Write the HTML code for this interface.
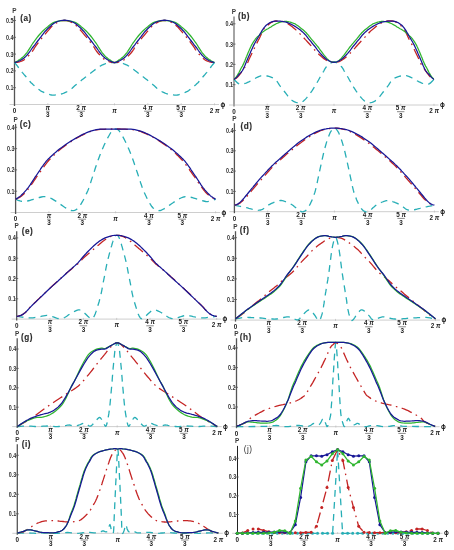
<!DOCTYPE html>
<html><head><meta charset="utf-8"><style>
html,body{margin:0;padding:0;background:#fff;}
svg{display:block;will-change:transform;}
text{font-family:"Liberation Sans",sans-serif;fill:#3a3a3a;}
.tl{font-size:6.6px;font-weight:bold;fill:#333;}
.xl{font-size:6.3px;font-weight:bold;fill:#222;}
.phi{font-size:6.4px;font-weight:bold;fill:#111;}
.pi{font-style:italic;}
.pl{font-size:6.4px;font-weight:bold;fill:#3a3a3a;}
.lb{font-size:8.2px;font-weight:bold;fill:#2e2e2e;stroke:#2e2e2e;stroke-width:0.15px;letter-spacing:0.45px;}
.lbn{font-size:8.2px;fill:#333;letter-spacing:0.45px;}
</style></head><body>
<svg width="454" height="550" viewBox="0 0 454 550">
<rect width="454" height="550" fill="#fff"/>
<line x1="9.5" y1="104.5" x2="219.0" y2="104.5" stroke="#c8c8c8" stroke-width="0.9"/>
<line x1="14.50" y1="15.9" x2="14.50" y2="106.0" stroke="#555" stroke-width="1.30"/>
<line x1="13.0" y1="87.7" x2="16.0" y2="87.7" stroke="#555" stroke-width="0.8"/>
<text x="6.0" y="90.0" class="tl" textLength="7.5" lengthAdjust="spacingAndGlyphs">0.1</text>
<line x1="13.0" y1="70.9" x2="16.0" y2="70.9" stroke="#555" stroke-width="0.8"/>
<text x="6.0" y="73.2" class="tl" textLength="7.5" lengthAdjust="spacingAndGlyphs">0.2</text>
<line x1="13.0" y1="54.1" x2="16.0" y2="54.1" stroke="#555" stroke-width="0.8"/>
<text x="6.0" y="56.5" class="tl" textLength="7.5" lengthAdjust="spacingAndGlyphs">0.3</text>
<line x1="13.0" y1="37.3" x2="16.0" y2="37.3" stroke="#555" stroke-width="0.8"/>
<text x="6.0" y="39.6" class="tl" textLength="7.5" lengthAdjust="spacingAndGlyphs">0.4</text>
<line x1="13.0" y1="20.5" x2="16.0" y2="20.5" stroke="#555" stroke-width="0.8"/>
<text x="6.0" y="22.9" class="tl" textLength="7.5" lengthAdjust="spacingAndGlyphs">0.5</text>
<line x1="47.8" y1="103.3" x2="47.8" y2="105.3" stroke="#bbb" stroke-width="0.7"/>
<line x1="81.2" y1="103.3" x2="81.2" y2="105.3" stroke="#bbb" stroke-width="0.7"/>
<line x1="114.5" y1="103.3" x2="114.5" y2="105.3" stroke="#bbb" stroke-width="0.7"/>
<line x1="147.8" y1="103.3" x2="147.8" y2="105.3" stroke="#bbb" stroke-width="0.7"/>
<line x1="181.2" y1="103.3" x2="181.2" y2="105.3" stroke="#bbb" stroke-width="0.7"/>
<line x1="214.5" y1="103.3" x2="214.5" y2="105.3" stroke="#bbb" stroke-width="0.7"/>
<text x="14.5" y="113.3" class="xl" text-anchor="middle">0</text>
<text x="47.8" y="109.8" class="xl" text-anchor="middle"><tspan class="pi">π</tspan></text>
<line x1="46.0" y1="111.2" x2="49.6" y2="111.2" stroke="#3a3a3a" stroke-width="0.6"/>
<text x="47.8" y="117.3" class="xl" text-anchor="middle">3</text>
<text x="81.2" y="109.8" class="xl" text-anchor="middle">2 <tspan class="pi">π</tspan></text>
<line x1="77.5" y1="111.2" x2="84.9" y2="111.2" stroke="#3a3a3a" stroke-width="0.6"/>
<text x="81.2" y="117.3" class="xl" text-anchor="middle">3</text>
<text x="147.8" y="109.8" class="xl" text-anchor="middle">4 <tspan class="pi">π</tspan></text>
<line x1="144.1" y1="111.2" x2="151.5" y2="111.2" stroke="#3a3a3a" stroke-width="0.6"/>
<text x="147.8" y="117.3" class="xl" text-anchor="middle">3</text>
<text x="181.2" y="109.8" class="xl" text-anchor="middle">5 <tspan class="pi">π</tspan></text>
<line x1="177.5" y1="111.2" x2="184.9" y2="111.2" stroke="#3a3a3a" stroke-width="0.6"/>
<text x="181.2" y="117.3" class="xl" text-anchor="middle">3</text>
<text x="114.5" y="112.8" class="xl" text-anchor="middle"><tspan class="pi">π</tspan></text>
<text x="214.5" y="112.8" class="xl" text-anchor="middle">2 <tspan class="pi">π</tspan></text>
<text x="222.8" y="106.5" class="phi" text-anchor="middle">ϕ</text>
<text x="14.5" y="13.2" class="pl" text-anchor="middle">P</text>
<text x="20.3" y="21.2" class="lb">(a)</text>
<path d="M14.5 62.5L14.9 63.0L15.5 63.7L16.2 64.5L16.9 65.4L17.5 66.2L18.1 67.0L18.7 67.8L19.3 68.5L19.9 69.3L20.5 70.1L21.0 70.7L21.5 71.3L21.9 72.0L22.4 72.6L23.1 73.4L23.9 74.4L24.9 75.5L26.0 76.7L27.0 77.8L27.9 78.8L28.6 79.6L29.1 80.4L29.7 81.1L30.2 81.8L31.0 82.7L32.0 83.6L33.2 84.7L34.4 85.7L35.6 86.8L36.7 87.7L37.6 88.5L38.5 89.2L39.3 89.8L40.2 90.5L41.1 91.1L42.2 91.7L43.3 92.2L44.5 92.8L45.7 93.3L46.9 93.7L48.1 94.1L49.3 94.5L50.5 94.8L51.7 95.0L53.0 95.1L54.4 95.1L55.8 94.9L57.3 94.7L58.7 94.5L60.0 94.3L61.1 94.0L62.0 93.8L62.9 93.5L63.9 93.2L64.9 92.7L66.1 92.2L67.3 91.5L68.7 90.7L69.9 89.9L71.1 89.0L72.1 88.3L72.9 87.5L73.7 86.7L74.7 85.8L76.0 84.7L77.7 83.3L79.6 81.8L81.7 80.1L83.8 78.4L85.9 76.8L87.9 75.2L90.1 73.6L92.1 72.0L94.1 70.5L95.8 69.2L97.2 68.2L98.4 67.3L99.4 66.6L100.4 66.0L101.5 65.4L102.6 64.8L103.8 64.3L104.9 63.9L105.9 63.5L106.9 63.2L107.7 62.9L108.5 62.8L109.2 62.6L109.9 62.6L110.6 62.5L111.4 62.5L112.1 62.5L112.9 62.5L113.7 62.5L114.5 62.5L115.3 62.5L116.1 62.5L116.9 62.5L117.6 62.5L118.4 62.5L119.1 62.6L119.8 62.6L120.5 62.8L121.3 62.9L122.1 63.2L123.1 63.5L124.1 63.9L125.2 64.3L126.4 64.8L127.5 65.4L128.6 66.0L129.6 66.6L130.6 67.3L131.8 68.2L133.2 69.2L134.9 70.5L136.9 72.0L138.9 73.6L141.1 75.2L143.1 76.8L145.2 78.4L147.3 80.1L149.4 81.8L151.3 83.3L153.0 84.7L154.3 85.8L155.3 86.7L156.1 87.5L156.9 88.3L157.9 89.0L159.1 89.9L160.3 90.7L161.7 91.5L162.9 92.2L164.1 92.7L165.1 93.2L166.1 93.5L167.0 93.8L167.9 94.0L169.0 94.3L170.3 94.5L171.7 94.7L173.2 94.9L174.6 95.1L176.0 95.1L177.3 95.0L178.5 94.8L179.7 94.5L180.9 94.1L182.1 93.7L183.3 93.3L184.5 92.8L185.7 92.2L186.8 91.7L187.9 91.1L188.8 90.5L189.7 89.8L190.5 89.2L191.4 88.5L192.3 87.7L193.4 86.8L194.6 85.7L195.8 84.7L197.0 83.6L198.0 82.7L198.8 81.8L199.3 81.1L199.9 80.4L200.4 79.6L201.1 78.8L202.0 77.8L203.0 76.7L204.1 75.5L205.1 74.4L205.9 73.4L206.6 72.6L207.1 72.0L207.5 71.3L208.0 70.7L208.5 70.1L209.1 69.3L209.7 68.5L210.3 67.8L210.9 67.0L211.5 66.2L212.1 65.4L212.8 64.5L213.5 63.7L214.1 63.0L214.5 62.5" stroke="#27aeb6" stroke-width="1.3" fill="none" stroke-dasharray="6.8 5.2"/>
<path d="M14.5 62.5L15.2 62.4L16.1 62.4L17.3 62.3L18.4 62.1L19.5 61.8L20.5 61.5L21.5 61.1L22.6 60.6L23.6 60.1L24.5 59.5L25.4 58.8L26.2 58.1L26.9 57.4L27.7 56.6L28.5 55.8L29.3 54.9L30.1 54.0L31.0 53.0L31.8 52.0L32.5 51.1L33.1 50.2L33.7 49.3L34.2 48.4L34.8 47.5L35.5 46.4L36.4 45.1L37.4 43.8L38.5 42.4L39.6 40.9L40.7 39.5L41.8 38.1L43.0 36.7L44.2 35.3L45.4 33.9L46.6 32.4L47.9 30.9L49.2 29.4L50.5 27.8L51.9 26.4L53.2 25.2L54.5 24.2L55.8 23.3L57.1 22.6L58.3 22.0L59.5 21.5L60.6 21.1L61.6 20.8L62.6 20.6L63.5 20.5L64.5 20.5L65.5 20.5L66.4 20.6L67.4 20.8L68.4 21.1L69.5 21.5L70.7 22.0L71.9 22.6L73.2 23.3L74.5 24.2L75.8 25.2L77.1 26.4L78.5 27.8L79.8 29.4L81.1 30.9L82.4 32.4L83.6 33.9L84.8 35.3L86.0 36.7L87.2 38.1L88.3 39.5L89.4 40.9L90.5 42.4L91.6 43.8L92.6 45.1L93.5 46.4L94.2 47.5L94.8 48.4L95.3 49.3L95.9 50.2L96.5 51.1L97.2 52.0L98.0 53.0L98.9 54.0L99.7 54.9L100.5 55.8L101.3 56.6L102.1 57.4L102.8 58.1L103.6 58.8L104.5 59.5L105.4 60.1L106.4 60.6L107.5 61.1L108.5 61.5L109.5 61.8L110.5 62.1L111.5 62.3L112.5 62.4L113.5 62.5L114.5 62.5L115.5 62.5L116.5 62.4L117.5 62.3L118.5 62.1L119.5 61.8L120.5 61.5L121.5 61.1L122.6 60.6L123.6 60.1L124.5 59.5L125.4 58.8L126.2 58.1L126.9 57.4L127.7 56.6L128.5 55.8L129.3 54.9L130.1 54.0L131.0 53.0L131.8 52.0L132.5 51.1L133.1 50.2L133.7 49.3L134.2 48.4L134.8 47.5L135.5 46.4L136.4 45.1L137.4 43.8L138.5 42.4L139.6 40.9L140.7 39.5L141.8 38.1L143.0 36.7L144.2 35.3L145.4 33.9L146.6 32.4L147.9 30.9L149.2 29.4L150.5 27.8L151.9 26.4L153.2 25.2L154.5 24.2L155.8 23.3L157.1 22.6L158.3 22.0L159.5 21.5L160.6 21.1L161.6 20.8L162.6 20.6L163.5 20.5L164.5 20.5L165.5 20.5L166.4 20.6L167.4 20.8L168.4 21.1L169.5 21.5L170.7 22.0L171.9 22.6L173.2 23.3L174.5 24.2L175.8 25.2L177.1 26.4L178.5 27.8L179.8 29.4L181.1 30.9L182.4 32.4L183.6 33.9L184.8 35.3L186.0 36.7L187.2 38.1L188.3 39.5L189.4 40.9L190.5 42.4L191.6 43.8L192.6 45.1L193.5 46.4L194.2 47.5L194.8 48.4L195.3 49.3L195.9 50.2L196.5 51.1L197.2 52.0L198.0 53.0L198.9 54.0L199.7 54.9L200.5 55.8L201.3 56.6L202.1 57.4L202.8 58.1L203.6 58.8L204.5 59.5L205.4 60.1L206.4 60.6L207.5 61.1L208.5 61.5L209.5 61.8L210.6 62.1L211.7 62.3L212.9 62.4L213.8 62.4L214.5 62.5" stroke="#c42424" stroke-width="1.3" fill="none" stroke-dasharray="11 4.5 1.6 4.5"/>
<path d="M14.5 62.5L15.1 62.2L15.9 61.8L16.9 61.3L17.9 60.7L18.8 60.1L19.7 59.6L20.6 59.0L21.4 58.3L22.3 57.6L23.2 56.8L24.1 55.9L24.9 55.0L25.8 53.9L26.7 52.8L27.6 51.6L28.5 50.2L29.5 48.7L30.5 47.1L31.4 45.5L32.4 44.0L33.3 42.6L34.3 41.3L35.2 40.0L36.1 38.8L37.0 37.6L37.9 36.5L38.7 35.5L39.6 34.5L40.5 33.5L41.5 32.4L42.6 31.3L43.7 30.2L45.0 29.1L46.2 27.9L47.5 26.9L48.8 25.8L50.1 24.8L51.4 23.8L52.9 22.9L54.5 22.2L56.3 21.6L58.3 21.1L60.4 20.8L62.5 20.6L64.5 20.5L66.5 20.6L68.6 20.8L70.7 21.1L72.7 21.6L74.5 22.2L76.1 22.9L77.6 23.8L78.9 24.8L80.2 25.8L81.5 26.9L82.8 27.9L84.0 29.1L85.3 30.2L86.4 31.3L87.5 32.4L88.5 33.5L89.4 34.5L90.3 35.5L91.1 36.5L92.0 37.6L92.9 38.8L93.8 40.0L94.7 41.3L95.7 42.6L96.6 44.0L97.6 45.5L98.5 47.1L99.5 48.7L100.5 50.2L101.4 51.6L102.3 52.8L103.2 53.9L104.1 55.0L104.9 55.9L105.8 56.8L106.7 57.6L107.6 58.3L108.4 59.0L109.3 59.6L110.2 60.1L111.1 60.8L111.9 61.4L112.8 61.9L113.6 62.3L114.5 62.5L115.4 62.3L116.2 61.9L117.1 61.4L117.9 60.8L118.8 60.1L119.7 59.6L120.6 59.0L121.4 58.3L122.3 57.6L123.2 56.8L124.1 55.9L124.9 55.0L125.8 53.9L126.7 52.8L127.6 51.6L128.5 50.2L129.5 48.7L130.5 47.1L131.4 45.5L132.4 44.0L133.3 42.6L134.3 41.3L135.2 40.0L136.1 38.8L137.0 37.6L137.9 36.5L138.7 35.5L139.6 34.5L140.5 33.5L141.5 32.4L142.6 31.3L143.7 30.2L145.0 29.1L146.2 27.9L147.5 26.9L148.8 25.8L150.1 24.8L151.4 23.8L152.9 22.9L154.5 22.2L156.3 21.6L158.3 21.1L160.4 20.8L162.5 20.6L164.5 20.5L166.5 20.6L168.6 20.8L170.7 21.1L172.7 21.6L174.5 22.2L176.1 22.9L177.6 23.8L178.9 24.8L180.2 25.8L181.5 26.9L182.8 27.9L184.0 29.1L185.3 30.2L186.4 31.3L187.5 32.4L188.5 33.5L189.4 34.5L190.3 35.5L191.1 36.5L192.0 37.6L192.9 38.8L193.8 40.0L194.7 41.3L195.7 42.6L196.6 44.0L197.6 45.5L198.5 47.1L199.5 48.7L200.5 50.2L201.4 51.6L202.3 52.8L203.2 53.9L204.1 55.0L204.9 55.9L205.8 56.8L206.7 57.6L207.6 58.3L208.4 59.0L209.3 59.6L210.2 60.1L211.1 60.7L212.1 61.3L213.1 61.8L213.9 62.2L214.5 62.5" stroke="#2fb52f" stroke-width="1.25" fill="none"/>
<path d="M14.5 62.5L15.1 62.3L15.9 62.1L16.9 61.8L17.9 61.5L18.8 61.2L19.7 60.8L20.6 60.3L21.4 59.8L22.3 59.3L23.2 58.6L24.1 57.9L24.9 57.2L25.8 56.4L26.7 55.5L27.6 54.4L28.6 53.2L29.6 51.9L30.6 50.5L31.6 49.0L32.7 47.5L33.8 46.1L35.0 44.6L36.1 43.0L37.3 41.5L38.5 40.0L39.7 38.4L40.9 36.9L42.0 35.3L43.2 33.8L44.3 32.4L45.3 31.2L46.3 30.2L47.2 29.2L48.2 28.2L49.3 27.2L50.5 26.2L51.7 25.0L53.0 24.0L54.4 23.0L55.9 22.2L57.5 21.5L59.2 21.0L61.0 20.5L62.7 20.3L64.5 20.2L66.3 20.3L68.0 20.5L69.8 21.0L71.5 21.5L73.1 22.2L74.6 23.0L76.0 24.0L77.3 25.0L78.5 26.2L79.7 27.2L80.8 28.2L81.8 29.2L82.7 30.2L83.7 31.2L84.7 32.4L85.8 33.8L87.0 35.3L88.1 36.9L89.3 38.4L90.5 40.0L91.7 41.5L92.9 43.0L94.0 44.6L95.2 46.1L96.3 47.5L97.4 49.0L98.4 50.5L99.4 51.9L100.4 53.2L101.4 54.4L102.3 55.5L103.2 56.4L104.1 57.2L104.9 57.9L105.8 58.6L106.7 59.3L107.6 59.8L108.4 60.3L109.3 60.8L110.2 61.2L111.1 61.5L111.9 61.9L112.8 62.2L113.6 62.4L114.5 62.5L115.4 62.4L116.2 62.2L117.1 61.9L117.9 61.5L118.8 61.2L119.7 60.8L120.6 60.3L121.4 59.8L122.3 59.3L123.2 58.6L124.1 57.9L124.9 57.2L125.8 56.4L126.7 55.5L127.6 54.4L128.6 53.2L129.6 51.9L130.6 50.5L131.6 49.0L132.7 47.5L133.8 46.1L135.0 44.6L136.1 43.0L137.3 41.5L138.5 40.0L139.7 38.4L140.9 36.9L142.0 35.3L143.2 33.8L144.3 32.4L145.3 31.2L146.3 30.2L147.2 29.2L148.2 28.2L149.3 27.2L150.5 26.2L151.7 25.0L153.0 24.0L154.4 23.0L155.9 22.2L157.5 21.5L159.2 21.0L161.0 20.5L162.7 20.3L164.5 20.2L166.3 20.3L168.0 20.5L169.8 21.0L171.5 21.5L173.1 22.2L174.6 23.0L176.0 24.0L177.3 25.0L178.5 26.2L179.7 27.2L180.8 28.2L181.8 29.2L182.7 30.2L183.7 31.2L184.7 32.4L185.8 33.8L187.0 35.3L188.1 36.9L189.3 38.4L190.5 40.0L191.7 41.5L192.9 43.0L194.0 44.6L195.2 46.1L196.3 47.5L197.4 49.0L198.4 50.5L199.4 51.9L200.4 53.2L201.4 54.4L202.3 55.5L203.2 56.4L204.1 57.2L204.9 57.9L205.8 58.6L206.7 59.3L207.6 59.8L208.4 60.3L209.3 60.8L210.2 61.2L211.1 61.5L212.1 61.8L213.1 62.1L213.9 62.3L214.5 62.5" stroke="#171796" stroke-width="1.25" fill="none"/>
<line x1="229.0" y1="105.0" x2="438.5" y2="105.0" stroke="#c8c8c8" stroke-width="0.9"/>
<line x1="234.00" y1="16.5" x2="234.00" y2="106.5" stroke="#a4a4a4" stroke-width="2.00"/>
<line x1="232.5" y1="84.7" x2="235.5" y2="84.7" stroke="#555" stroke-width="0.8"/>
<text x="225.5" y="87.0" class="tl" textLength="7.5" lengthAdjust="spacingAndGlyphs">0.1</text>
<line x1="232.5" y1="64.4" x2="235.5" y2="64.4" stroke="#555" stroke-width="0.8"/>
<text x="225.5" y="66.8" class="tl" textLength="7.5" lengthAdjust="spacingAndGlyphs">0.2</text>
<line x1="232.5" y1="44.1" x2="235.5" y2="44.1" stroke="#555" stroke-width="0.8"/>
<text x="225.5" y="46.5" class="tl" textLength="7.5" lengthAdjust="spacingAndGlyphs">0.3</text>
<line x1="232.5" y1="23.8" x2="235.5" y2="23.8" stroke="#555" stroke-width="0.8"/>
<text x="225.5" y="26.1" class="tl" textLength="7.5" lengthAdjust="spacingAndGlyphs">0.4</text>
<line x1="267.3" y1="103.8" x2="267.3" y2="105.8" stroke="#bbb" stroke-width="0.7"/>
<line x1="300.7" y1="103.8" x2="300.7" y2="105.8" stroke="#bbb" stroke-width="0.7"/>
<line x1="334.0" y1="103.8" x2="334.0" y2="105.8" stroke="#bbb" stroke-width="0.7"/>
<line x1="367.3" y1="103.8" x2="367.3" y2="105.8" stroke="#bbb" stroke-width="0.7"/>
<line x1="400.7" y1="103.8" x2="400.7" y2="105.8" stroke="#bbb" stroke-width="0.7"/>
<line x1="434.0" y1="103.8" x2="434.0" y2="105.8" stroke="#bbb" stroke-width="0.7"/>
<text x="234.0" y="113.8" class="xl" text-anchor="middle">0</text>
<text x="267.3" y="110.3" class="xl" text-anchor="middle"><tspan class="pi">π</tspan></text>
<line x1="265.5" y1="111.7" x2="269.1" y2="111.7" stroke="#3a3a3a" stroke-width="0.6"/>
<text x="267.3" y="117.8" class="xl" text-anchor="middle">3</text>
<text x="300.7" y="110.3" class="xl" text-anchor="middle">2 <tspan class="pi">π</tspan></text>
<line x1="297.0" y1="111.7" x2="304.4" y2="111.7" stroke="#3a3a3a" stroke-width="0.6"/>
<text x="300.7" y="117.8" class="xl" text-anchor="middle">3</text>
<text x="367.3" y="110.3" class="xl" text-anchor="middle">4 <tspan class="pi">π</tspan></text>
<line x1="363.6" y1="111.7" x2="371.0" y2="111.7" stroke="#3a3a3a" stroke-width="0.6"/>
<text x="367.3" y="117.8" class="xl" text-anchor="middle">3</text>
<text x="400.7" y="110.3" class="xl" text-anchor="middle">5 <tspan class="pi">π</tspan></text>
<line x1="397.0" y1="111.7" x2="404.4" y2="111.7" stroke="#3a3a3a" stroke-width="0.6"/>
<text x="400.7" y="117.8" class="xl" text-anchor="middle">3</text>
<text x="334.0" y="113.3" class="xl" text-anchor="middle"><tspan class="pi">π</tspan></text>
<text x="434.0" y="113.3" class="xl" text-anchor="middle">2 <tspan class="pi">π</tspan></text>
<text x="442.3" y="107.0" class="phi" text-anchor="middle">ϕ</text>
<text x="234.0" y="13.6" class="pl" text-anchor="middle">P</text>
<text x="238.0" y="19.3" class="lb">(b)</text>
<path d="M234.0 79.6L234.1 79.7L234.2 79.8L234.4 80.0L234.7 80.3L235.1 80.6L235.8 81.2L236.6 82.0L237.5 82.9L238.5 83.6L239.5 84.1L240.5 84.3L241.6 84.2L242.7 84.1L243.9 83.8L245.0 83.5L246.1 83.1L247.1 82.7L248.2 82.2L249.3 81.6L250.5 81.0L251.8 80.4L253.1 79.6L254.5 78.8L255.8 78.0L257.1 77.4L258.2 76.9L259.3 76.4L260.3 76.0L261.4 75.7L262.6 75.6L264.0 75.6L265.6 75.7L267.3 76.0L268.9 76.4L270.3 76.8L271.6 77.3L272.8 77.8L273.9 78.4L274.9 79.2L275.9 80.0L276.8 81.1L277.7 82.3L278.5 83.7L279.3 84.9L280.0 85.9L280.6 86.6L281.0 87.1L281.5 87.6L281.9 88.1L282.5 88.8L283.2 89.7L284.0 90.8L284.8 92.0L285.7 93.2L286.6 94.4L287.6 95.7L288.6 96.9L289.6 98.2L290.7 99.4L291.9 100.3L293.2 101.1L294.6 101.8L296.0 102.3L297.3 102.7L298.5 103.0L299.4 103.0L300.2 103.0L300.9 102.7L301.7 102.3L302.5 101.8L303.5 101.0L304.5 100.1L305.5 99.1L306.6 97.9L307.8 96.5L309.1 94.9L310.4 93.0L311.8 91.1L313.1 89.1L314.4 87.1L315.5 85.3L316.6 83.4L317.7 81.5L318.7 79.7L319.6 78.0L320.5 76.5L321.4 75.0L322.2 73.7L322.9 72.4L323.6 71.3L324.2 70.3L324.6 69.4L325.1 68.6L325.6 67.8L326.2 67.0L327.0 66.2L328.0 65.2L329.0 64.4L330.0 63.6L330.9 63.0L331.6 62.6L332.3 62.3L332.8 62.2L333.4 62.2L334.0 62.2L334.6 62.2L335.2 62.2L335.7 62.3L336.4 62.6L337.1 63.0L338.0 63.6L339.0 64.4L340.0 65.2L341.0 66.2L341.8 67.0L342.4 67.8L342.9 68.6L343.4 69.4L343.8 70.3L344.4 71.3L345.1 72.4L345.8 73.7L346.6 75.0L347.5 76.5L348.4 78.0L349.3 79.7L350.3 81.5L351.4 83.4L352.5 85.3L353.6 87.1L354.9 89.1L356.2 91.1L357.6 93.0L358.9 94.9L360.2 96.5L361.4 97.9L362.5 99.1L363.5 100.1L364.5 101.0L365.5 101.8L366.3 102.3L367.1 102.7L367.8 103.0L368.6 103.0L369.5 103.0L370.7 102.7L372.0 102.3L373.4 101.8L374.8 101.1L376.1 100.3L377.3 99.4L378.4 98.2L379.4 96.9L380.4 95.7L381.4 94.4L382.3 93.2L383.2 92.0L384.0 90.8L384.8 89.7L385.5 88.8L386.1 88.1L386.5 87.6L387.0 87.1L387.4 86.6L388.0 85.9L388.7 84.9L389.5 83.7L390.3 82.3L391.2 81.1L392.1 80.0L393.1 79.2L394.1 78.4L395.2 77.8L396.4 77.3L397.7 76.8L399.1 76.4L400.7 76.0L402.4 75.7L404.0 75.6L405.4 75.6L406.6 75.7L407.7 76.0L408.7 76.4L409.8 76.9L410.9 77.4L412.2 78.0L413.5 78.8L414.9 79.6L416.2 80.4L417.5 81.0L418.7 81.6L419.8 82.2L420.9 82.7L421.9 83.1L423.0 83.5L424.1 83.8L425.3 84.1L426.4 84.2L427.5 84.3L428.5 84.1L429.5 83.6L430.5 82.9L431.4 82.0L432.2 81.2L432.9 80.6L433.3 80.3L433.6 80.0L433.8 79.8L433.9 79.7L434.0 79.6" stroke="#27aeb6" stroke-width="1.3" fill="none" stroke-dasharray="6.8 5.2"/>
<path d="M234.0 79.4L234.4 79.2L235.0 78.9L235.7 78.5L236.4 78.1L237.0 77.6L237.6 77.0L238.2 76.4L238.7 75.8L239.3 75.0L240.0 74.1L240.8 73.1L241.6 72.0L242.4 70.8L243.2 69.6L244.0 68.5L244.7 67.5L245.3 66.6L245.9 65.8L246.4 64.9L247.0 63.9L247.6 62.7L248.2 61.4L248.7 60.1L249.3 58.8L249.9 57.5L250.5 56.3L251.1 55.1L251.6 53.9L252.2 52.7L252.8 51.5L253.4 50.3L254.0 49.0L254.6 47.7L255.2 46.3L255.9 44.9L256.7 43.4L257.5 41.9L258.3 40.3L259.2 38.6L260.0 37.0L260.8 35.3L261.6 33.5L262.4 31.7L263.2 30.1L264.1 28.7L265.0 27.5L266.1 26.5L267.1 25.7L268.1 24.9L269.0 24.2L269.8 23.6L270.5 23.0L271.2 22.5L271.9 22.1L272.6 21.8L273.4 21.5L274.1 21.3L274.9 21.1L275.7 21.0L276.5 21.0L277.3 20.9L278.0 20.9L278.8 20.9L279.5 20.9L280.3 21.0L281.1 21.1L281.8 21.2L282.6 21.4L283.3 21.6L284.0 21.8L284.6 22.0L285.1 22.2L285.6 22.4L286.1 22.7L286.7 23.0L287.4 23.4L288.2 23.9L288.9 24.4L289.7 24.9L290.5 25.4L291.2 26.0L291.9 26.5L292.6 27.1L293.3 27.7L294.0 28.3L294.6 28.8L295.2 29.2L295.8 29.7L296.5 30.2L297.2 30.9L298.1 31.8L299.0 32.8L300.0 33.9L301.0 35.0L301.9 36.0L302.8 36.9L303.6 37.7L304.4 38.5L305.2 39.4L306.2 40.4L307.4 41.7L308.8 43.2L310.2 44.8L311.5 46.2L312.5 47.3L313.1 48.1L313.5 48.5L313.7 48.8L314.0 49.2L314.5 49.8L315.3 50.6L316.2 51.6L317.2 52.6L318.3 53.7L319.3 54.7L320.3 55.6L321.4 56.6L322.5 57.5L323.6 58.4L324.6 59.1L325.5 59.8L326.3 60.3L327.1 60.8L327.9 61.2L328.8 61.6L329.8 61.8L330.8 62.0L331.9 62.1L332.9 62.2L334.0 62.2L335.1 62.2L336.1 62.1L337.2 62.0L338.2 61.8L339.2 61.6L340.1 61.2L340.9 60.8L341.7 60.3L342.5 59.8L343.4 59.1L344.4 58.4L345.5 57.5L346.6 56.6L347.7 55.6L348.7 54.7L349.7 53.7L350.8 52.6L351.8 51.6L352.7 50.6L353.5 49.8L354.0 49.2L354.3 48.8L354.5 48.5L354.9 48.1L355.5 47.3L356.5 46.2L357.8 44.8L359.2 43.2L360.6 41.7L361.8 40.4L362.8 39.4L363.6 38.5L364.4 37.7L365.2 36.9L366.1 36.0L367.0 35.0L368.0 33.9L369.0 32.8L369.9 31.8L370.8 30.9L371.5 30.2L372.2 29.7L372.8 29.2L373.4 28.8L374.0 28.3L374.7 27.7L375.4 27.1L376.1 26.5L376.8 26.0L377.5 25.4L378.3 24.9L379.1 24.4L379.8 23.9L380.6 23.4L381.3 23.0L381.9 22.7L382.4 22.4L382.9 22.2L383.4 22.0L384.0 21.8L384.7 21.6L385.4 21.4L386.2 21.2L386.9 21.1L387.7 21.0L388.5 20.9L389.2 20.9L390.0 20.9L390.7 20.9L391.5 21.0L392.3 21.0L393.1 21.1L393.9 21.3L394.6 21.5L395.4 21.8L396.1 22.1L396.8 22.5L397.5 23.0L398.2 23.6L399.0 24.2L399.9 24.9L400.9 25.7L401.9 26.5L403.0 27.5L403.9 28.7L404.8 30.1L405.6 31.7L406.4 33.5L407.2 35.3L408.0 37.0L408.8 38.6L409.7 40.3L410.5 41.9L411.3 43.4L412.1 44.9L412.8 46.3L413.4 47.7L414.0 49.0L414.6 50.3L415.2 51.5L415.8 52.7L416.4 53.9L416.9 55.1L417.5 56.3L418.1 57.5L418.7 58.8L419.3 60.1L419.8 61.4L420.4 62.7L421.0 63.9L421.6 64.9L422.1 65.8L422.7 66.6L423.3 67.5L424.0 68.5L424.8 69.6L425.6 70.8L426.4 72.0L427.2 73.1L428.0 74.1L428.7 75.0L429.3 75.8L429.8 76.4L430.4 77.0L431.0 77.6L431.6 78.1L432.3 78.5L433.0 78.9L433.6 79.2L434.0 79.4" stroke="#c42424" stroke-width="1.3" fill="none" stroke-dasharray="11 4.5 1.6 4.5"/>
<path d="M234.0 79.4L234.3 79.1L234.8 78.5L235.4 77.9L236.0 77.3L236.5 76.6L237.0 75.8L237.5 75.0L238.0 74.2L238.5 73.4L239.0 72.5L239.4 71.7L239.8 70.9L240.2 70.1L240.6 69.3L241.0 68.5L241.4 67.7L241.9 66.9L242.4 66.1L242.9 65.1L243.5 63.9L244.2 62.3L245.0 60.4L245.8 58.3L246.7 56.2L247.5 54.2L248.3 52.3L249.2 50.3L250.0 48.4L250.9 46.6L251.7 44.9L252.5 43.5L253.3 42.2L254.0 41.1L254.8 40.0L255.5 39.0L256.2 38.2L256.9 37.4L257.5 36.7L258.2 36.1L259.0 35.4L259.8 34.6L260.6 33.8L261.5 33.0L262.4 32.3L263.4 31.5L264.5 30.8L265.6 30.0L266.8 29.3L268.0 28.7L269.0 28.1L269.8 27.5L270.6 27.1L271.3 26.7L271.9 26.2L272.6 25.8L273.3 25.4L274.0 25.0L274.7 24.6L275.4 24.2L276.1 23.8L276.8 23.5L277.5 23.2L278.2 22.9L278.9 22.6L279.6 22.4L280.3 22.2L281.0 22.0L281.7 21.8L282.4 21.7L283.1 21.6L283.8 21.5L284.5 21.4L285.3 21.3L286.0 21.3L286.7 21.4L287.4 21.5L288.1 21.6L288.8 21.8L289.5 22.0L290.2 22.2L290.9 22.4L291.7 22.7L292.4 22.9L293.1 23.2L293.7 23.4L294.1 23.5L294.4 23.6L294.6 23.6L295.0 23.8L295.6 24.2L296.6 24.9L297.9 25.8L299.2 26.8L300.6 27.9L301.9 28.9L303.0 29.8L304.1 30.8L305.1 31.8L306.2 32.8L307.2 34.0L308.3 35.2L309.3 36.5L310.4 37.8L311.4 39.2L312.5 40.4L313.6 41.7L314.6 42.9L315.7 44.1L316.7 45.4L317.7 46.5L318.6 47.7L319.4 48.8L320.3 50.0L321.1 51.1L321.9 52.2L322.8 53.4L323.6 54.5L324.5 55.7L325.4 56.7L326.2 57.7L327.0 58.6L327.7 59.3L328.4 60.0L329.1 60.7L329.9 61.2L330.7 61.5L331.5 61.8L332.3 62.0L333.2 62.1L334.0 62.2L334.8 62.1L335.7 62.0L336.5 61.8L337.3 61.5L338.1 61.2L338.9 60.7L339.6 60.0L340.3 59.3L341.0 58.6L341.8 57.7L342.6 56.7L343.5 55.7L344.4 54.5L345.2 53.4L346.1 52.2L346.9 51.1L347.7 50.0L348.6 48.8L349.4 47.7L350.3 46.5L351.3 45.4L352.3 44.1L353.4 42.9L354.4 41.7L355.5 40.4L356.6 39.2L357.6 37.8L358.7 36.5L359.7 35.2L360.8 34.0L361.8 32.8L362.9 31.8L363.9 30.8L365.0 29.8L366.1 28.9L367.4 27.9L368.8 26.8L370.1 25.8L371.4 24.9L372.4 24.2L373.0 23.8L373.4 23.6L373.6 23.6L373.9 23.5L374.3 23.4L374.9 23.2L375.6 22.9L376.3 22.7L377.1 22.4L377.8 22.2L378.5 22.0L379.2 21.8L379.9 21.6L380.6 21.5L381.3 21.4L382.0 21.3L382.7 21.3L383.5 21.4L384.2 21.5L384.9 21.6L385.6 21.7L386.3 21.8L387.0 22.0L387.7 22.2L388.4 22.4L389.1 22.6L389.8 22.9L390.5 23.2L391.2 23.5L391.9 23.8L392.6 24.2L393.3 24.6L394.0 25.0L394.7 25.4L395.4 25.8L396.1 26.2L396.7 26.7L397.4 27.1L398.2 27.5L399.0 28.1L400.0 28.7L401.2 29.3L402.4 30.0L403.5 30.8L404.6 31.5L405.6 32.3L406.5 33.0L407.4 33.8L408.2 34.6L409.0 35.4L409.8 36.1L410.5 36.7L411.1 37.4L411.8 38.2L412.5 39.0L413.2 40.0L414.0 41.1L414.7 42.2L415.5 43.5L416.3 44.9L417.1 46.6L418.0 48.4L418.8 50.3L419.7 52.3L420.5 54.2L421.3 56.2L422.2 58.3L423.0 60.4L423.8 62.3L424.5 63.9L425.1 65.1L425.6 66.1L426.1 66.9L426.6 67.7L427.0 68.5L427.4 69.3L427.8 70.1L428.2 70.9L428.6 71.7L429.0 72.5L429.5 73.4L430.0 74.2L430.5 75.0L431.0 75.8L431.5 76.6L432.0 77.3L432.6 77.9L433.2 78.5L433.7 79.1L434.0 79.4" stroke="#2fb52f" stroke-width="1.25" fill="none"/>
<path d="M234.0 79.4L234.3 79.2L234.8 78.8L235.4 78.4L236.0 77.9L236.5 77.4L237.0 76.9L237.5 76.4L237.9 75.8L238.4 75.2L239.0 74.5L239.6 73.9L240.4 73.1L241.1 72.4L241.8 71.5L242.5 70.5L243.1 69.4L243.7 68.1L244.3 66.8L244.9 65.4L245.5 63.9L246.1 62.4L246.8 60.8L247.5 59.2L248.2 57.5L249.0 55.7L249.9 53.7L250.8 51.5L251.9 49.2L252.9 47.0L253.9 44.9L254.9 43.0L256.0 41.0L257.1 39.2L258.1 37.5L259.0 36.0L259.7 34.7L260.3 33.6L260.9 32.6L261.4 31.7L262.0 30.7L262.7 29.7L263.4 28.7L264.1 27.7L264.8 26.8L265.5 26.0L266.2 25.3L266.9 24.7L267.6 24.2L268.3 23.7L269.0 23.2L269.7 22.8L270.4 22.4L271.2 22.1L271.9 21.8L272.6 21.6L273.3 21.4L274.0 21.3L274.7 21.2L275.4 21.2L276.1 21.2L276.8 21.1L277.5 21.1L278.2 21.1L278.9 21.1L279.6 21.2L280.3 21.2L281.0 21.3L281.7 21.4L282.4 21.5L283.1 21.6L283.8 21.7L284.5 21.8L285.3 22.0L286.0 22.2L286.7 22.4L287.4 22.6L288.1 22.9L288.8 23.2L289.5 23.5L290.2 23.8L290.9 24.1L291.6 24.5L292.4 24.9L293.1 25.3L294.0 25.8L295.0 26.4L296.0 27.0L297.1 27.7L298.2 28.5L299.3 29.3L300.4 30.1L301.4 31.0L302.5 31.9L303.5 32.9L304.6 34.0L305.7 35.1L306.7 36.4L307.8 37.8L308.8 39.1L309.9 40.4L311.0 41.7L312.0 43.0L313.1 44.3L314.1 45.5L315.1 46.7L316.0 47.9L316.8 49.0L317.6 50.1L318.4 51.1L319.3 52.2L320.3 53.4L321.4 54.5L322.5 55.7L323.6 56.8L324.6 57.7L325.5 58.5L326.4 59.2L327.2 59.8L328.0 60.3L328.8 60.7L329.6 61.2L330.4 61.5L331.2 61.8L331.9 62.0L332.5 62.2L332.9 62.3L333.3 62.3L333.5 62.2L333.7 62.2L334.0 62.2L334.3 62.2L334.5 62.2L334.7 62.3L335.1 62.3L335.5 62.2L336.1 62.0L336.8 61.8L337.6 61.5L338.4 61.2L339.2 60.7L340.0 60.3L340.8 59.8L341.6 59.2L342.5 58.5L343.4 57.7L344.4 56.8L345.5 55.7L346.6 54.5L347.7 53.4L348.7 52.2L349.6 51.1L350.4 50.1L351.2 49.0L352.0 47.9L352.9 46.7L353.9 45.5L354.9 44.3L356.0 43.0L357.0 41.7L358.1 40.4L359.2 39.1L360.2 37.8L361.3 36.4L362.3 35.1L363.4 34.0L364.5 32.9L365.5 31.9L366.6 31.0L367.6 30.1L368.7 29.3L369.8 28.5L370.9 27.7L372.0 27.0L373.0 26.4L374.0 25.8L374.9 25.3L375.6 24.9L376.4 24.5L377.1 24.1L377.8 23.8L378.5 23.5L379.2 23.2L379.9 22.9L380.6 22.6L381.3 22.4L382.0 22.2L382.7 22.0L383.5 21.8L384.2 21.7L384.9 21.6L385.6 21.5L386.3 21.4L387.0 21.3L387.7 21.2L388.4 21.2L389.1 21.1L389.8 21.1L390.5 21.1L391.2 21.1L391.9 21.2L392.6 21.2L393.3 21.2L394.0 21.3L394.7 21.4L395.4 21.6L396.1 21.8L396.8 22.1L397.6 22.4L398.3 22.8L399.0 23.2L399.7 23.7L400.4 24.2L401.1 24.7L401.8 25.3L402.5 26.0L403.2 26.8L403.9 27.7L404.6 28.7L405.3 29.7L406.0 30.7L406.6 31.7L407.1 32.6L407.7 33.6L408.3 34.7L409.0 36.0L409.9 37.5L410.9 39.2L412.0 41.0L413.1 43.0L414.1 44.9L415.1 47.0L416.1 49.2L417.2 51.5L418.1 53.7L419.0 55.7L419.8 57.5L420.5 59.2L421.2 60.8L421.9 62.4L422.5 63.9L423.1 65.4L423.7 66.8L424.3 68.1L424.9 69.4L425.5 70.5L426.2 71.5L426.9 72.4L427.6 73.1L428.4 73.9L429.0 74.5L429.6 75.2L430.1 75.8L430.5 76.4L431.0 76.9L431.5 77.4L432.0 77.9L432.6 78.4L433.2 78.8L433.7 79.2L434.0 79.4" stroke="#171796" stroke-width="1.25" fill="none"/>
<line x1="10.6" y1="212.5" x2="220.1" y2="212.5" stroke="#c8c8c8" stroke-width="0.9"/>
<line x1="15.60" y1="123.9" x2="15.60" y2="214.0" stroke="#555" stroke-width="1.30"/>
<line x1="14.1" y1="191.2" x2="17.1" y2="191.2" stroke="#555" stroke-width="0.8"/>
<text x="7.1" y="193.5" class="tl" textLength="7.5" lengthAdjust="spacingAndGlyphs">0.1</text>
<line x1="14.1" y1="169.9" x2="17.1" y2="169.9" stroke="#555" stroke-width="0.8"/>
<text x="7.1" y="172.2" class="tl" textLength="7.5" lengthAdjust="spacingAndGlyphs">0.2</text>
<line x1="14.1" y1="148.6" x2="17.1" y2="148.6" stroke="#555" stroke-width="0.8"/>
<text x="7.1" y="150.9" class="tl" textLength="7.5" lengthAdjust="spacingAndGlyphs">0.3</text>
<line x1="14.1" y1="127.3" x2="17.1" y2="127.3" stroke="#555" stroke-width="0.8"/>
<text x="7.1" y="129.7" class="tl" textLength="7.5" lengthAdjust="spacingAndGlyphs">0.4</text>
<line x1="48.9" y1="211.3" x2="48.9" y2="213.3" stroke="#bbb" stroke-width="0.7"/>
<line x1="82.3" y1="211.3" x2="82.3" y2="213.3" stroke="#bbb" stroke-width="0.7"/>
<line x1="115.6" y1="211.3" x2="115.6" y2="213.3" stroke="#bbb" stroke-width="0.7"/>
<line x1="148.9" y1="211.3" x2="148.9" y2="213.3" stroke="#bbb" stroke-width="0.7"/>
<line x1="182.3" y1="211.3" x2="182.3" y2="213.3" stroke="#bbb" stroke-width="0.7"/>
<line x1="215.6" y1="211.3" x2="215.6" y2="213.3" stroke="#bbb" stroke-width="0.7"/>
<text x="15.6" y="221.3" class="xl" text-anchor="middle">0</text>
<text x="48.9" y="217.8" class="xl" text-anchor="middle"><tspan class="pi">π</tspan></text>
<line x1="47.1" y1="219.2" x2="50.7" y2="219.2" stroke="#3a3a3a" stroke-width="0.6"/>
<text x="48.9" y="225.3" class="xl" text-anchor="middle">3</text>
<text x="82.3" y="217.8" class="xl" text-anchor="middle">2 <tspan class="pi">π</tspan></text>
<line x1="78.6" y1="219.2" x2="86.0" y2="219.2" stroke="#3a3a3a" stroke-width="0.6"/>
<text x="82.3" y="225.3" class="xl" text-anchor="middle">3</text>
<text x="148.9" y="217.8" class="xl" text-anchor="middle">4 <tspan class="pi">π</tspan></text>
<line x1="145.2" y1="219.2" x2="152.6" y2="219.2" stroke="#3a3a3a" stroke-width="0.6"/>
<text x="148.9" y="225.3" class="xl" text-anchor="middle">3</text>
<text x="182.3" y="217.8" class="xl" text-anchor="middle">5 <tspan class="pi">π</tspan></text>
<line x1="178.6" y1="219.2" x2="186.0" y2="219.2" stroke="#3a3a3a" stroke-width="0.6"/>
<text x="182.3" y="225.3" class="xl" text-anchor="middle">3</text>
<text x="115.6" y="220.8" class="xl" text-anchor="middle"><tspan class="pi">π</tspan></text>
<text x="215.6" y="220.8" class="xl" text-anchor="middle">2 <tspan class="pi">π</tspan></text>
<text x="223.9" y="214.5" class="phi" text-anchor="middle">ϕ</text>
<text x="15.6" y="121.5" class="pl" text-anchor="middle">P</text>
<text x="19.8" y="127.3" class="lb">(c)</text>
<path d="M15.6 199.3L16.7 199.7L18.2 200.3L20.0 200.9L21.8 201.4L23.7 201.6L25.5 201.5L27.5 201.0L29.4 200.5L31.4 199.9L33.4 199.3L35.4 198.7L37.4 198.1L39.4 197.5L41.3 197.0L43.1 196.7L44.7 196.7L46.0 196.7L47.4 197.0L48.7 197.4L50.3 198.0L52.1 198.9L54.1 200.1L56.2 201.4L58.2 202.8L60.0 204.0L61.6 205.1L63.2 206.2L64.6 207.2L66.0 208.1L67.3 208.9L68.6 209.5L69.8 210.1L71.0 210.5L72.2 210.7L73.4 210.6L74.6 210.3L75.7 209.8L76.9 209.1L78.1 208.0L79.4 206.5L80.8 204.4L82.4 201.7L84.0 198.7L85.4 195.8L86.7 193.1L87.7 190.9L88.5 189.0L89.1 187.1L89.8 185.0L90.6 182.7L91.5 179.9L92.5 176.9L93.5 173.7L94.6 170.5L95.6 167.3L96.7 164.3L97.7 161.2L98.8 158.2L99.9 155.2L101.0 152.4L102.1 149.8L103.2 147.2L104.3 144.8L105.4 142.5L106.5 140.3L107.6 138.1L108.8 136.0L109.9 134.0L111.0 132.3L112.0 130.9L112.8 130.0L113.6 129.4L114.3 129.1L114.9 129.0L115.6 129.0L116.3 129.0L116.9 129.1L117.6 129.4L118.4 130.0L119.2 130.9L120.2 132.3L121.3 134.0L122.4 136.0L123.6 138.1L124.7 140.3L125.8 142.5L126.9 144.8L128.0 147.2L129.1 149.8L130.2 152.4L131.3 155.2L132.4 158.2L133.5 161.2L134.5 164.3L135.6 167.3L136.6 170.5L137.7 173.7L138.7 176.9L139.7 179.9L140.6 182.7L141.4 185.0L142.1 187.1L142.7 189.0L143.5 190.9L144.5 193.1L145.8 195.8L147.2 198.7L148.8 201.7L150.4 204.4L151.8 206.5L153.1 208.0L154.3 209.1L155.5 209.8L156.6 210.3L157.8 210.6L159.0 210.7L160.2 210.5L161.4 210.1L162.6 209.5L163.9 208.9L165.2 208.1L166.6 207.2L168.0 206.2L169.6 205.1L171.2 204.0L173.0 202.8L175.0 201.4L177.1 200.1L179.1 198.9L180.9 198.0L182.5 197.4L183.8 197.0L185.2 196.7L186.5 196.7L188.1 196.7L189.9 197.0L191.8 197.5L193.8 198.1L195.8 198.7L197.8 199.3L199.8 199.9L201.8 200.5L203.7 201.0L205.7 201.5L207.5 201.6L209.4 201.4L211.2 200.9L213.0 200.3L214.5 199.7L215.6 199.3" stroke="#27aeb6" stroke-width="1.3" fill="none" stroke-dasharray="6.8 5.2"/>
<path d="M15.6 199.3L16.3 199.0L17.2 198.5L18.4 198.0L19.5 197.4L20.6 196.7L21.6 196.0L22.6 195.1L23.6 194.2L24.6 193.3L25.6 192.3L26.5 191.2L27.4 190.1L28.3 188.9L29.2 187.7L30.1 186.5L31.0 185.2L31.9 183.9L32.8 182.6L33.7 181.2L34.6 179.9L35.5 178.6L36.4 177.2L37.4 175.9L38.3 174.6L39.2 173.3L40.1 172.0L41.0 170.8L41.8 169.6L42.7 168.4L43.6 167.1L44.5 165.9L45.4 164.6L46.4 163.4L47.3 162.1L48.3 161.0L49.3 159.8L50.4 158.7L51.5 157.5L52.5 156.5L53.6 155.4L54.6 154.5L55.4 153.6L56.3 152.7L57.3 151.8L58.6 150.7L60.1 149.5L61.9 148.1L63.8 146.7L65.7 145.3L67.6 143.9L69.4 142.6L71.3 141.4L73.2 140.2L75.1 139.1L77.0 137.9L78.9 136.9L80.9 135.8L82.8 134.8L84.8 133.9L86.7 133.1L88.6 132.3L90.6 131.5L92.5 130.9L94.5 130.3L96.4 129.9L98.3 129.6L100.3 129.4L102.2 129.3L104.2 129.3L106.1 129.2L108.0 129.1L109.9 129.1L111.8 129.0L113.7 129.0L115.6 129.0L117.5 129.0L119.4 129.0L121.3 129.1L123.2 129.1L125.1 129.2L127.0 129.3L129.0 129.3L130.9 129.4L132.9 129.6L134.8 129.9L136.7 130.3L138.7 130.9L140.6 131.5L142.6 132.3L144.5 133.1L146.4 133.9L148.4 134.8L150.3 135.8L152.3 136.9L154.2 137.9L156.1 139.1L158.0 140.2L159.9 141.4L161.8 142.6L163.6 143.9L165.5 145.3L167.4 146.7L169.3 148.1L171.1 149.5L172.6 150.7L173.9 151.8L174.9 152.7L175.8 153.6L176.6 154.5L177.6 155.4L178.7 156.5L179.7 157.5L180.8 158.7L181.9 159.8L182.9 161.0L183.9 162.1L184.8 163.4L185.8 164.6L186.7 165.9L187.6 167.1L188.5 168.4L189.4 169.6L190.2 170.8L191.1 172.0L192.0 173.3L192.9 174.6L193.8 175.9L194.8 177.2L195.7 178.6L196.6 179.9L197.5 181.2L198.4 182.6L199.3 183.9L200.2 185.2L201.1 186.5L202.0 187.7L202.9 188.9L203.8 190.1L204.7 191.2L205.6 192.3L206.6 193.3L207.6 194.2L208.6 195.1L209.6 196.0L210.6 196.7L211.7 197.4L212.8 198.0L214.0 198.5L214.9 199.0L215.6 199.3" stroke="#c42424" stroke-width="1.3" fill="none" stroke-dasharray="11 4.5 1.6 4.5"/>
<path d="M15.6 199.3L16.2 198.9L17.0 198.4L18.0 197.8L19.0 197.1L20.0 196.4L20.9 195.6L21.8 194.7L22.8 193.8L23.7 192.8L24.6 191.8L25.5 190.8L26.4 189.8L27.3 188.7L28.2 187.6L29.1 186.4L30.0 185.1L30.9 183.7L31.8 182.3L32.7 180.9L33.6 179.5L34.5 178.1L35.4 176.7L36.4 175.4L37.3 174.0L38.2 172.7L39.1 171.3L40.0 170.0L40.8 168.7L41.7 167.3L42.6 166.1L43.5 164.8L44.4 163.6L45.4 162.4L46.3 161.2L47.3 160.1L48.3 159.0L49.4 158.0L50.4 157.0L51.5 156.0L52.6 155.0L53.6 154.0L54.6 153.1L55.7 152.2L56.8 151.2L58.2 150.1L59.8 148.8L61.7 147.5L63.7 146.0L65.7 144.6L67.6 143.3L69.5 142.0L71.3 140.9L73.2 139.7L75.1 138.6L77.0 137.5L78.9 136.5L80.9 135.4L82.8 134.4L84.8 133.5L86.7 132.6L88.6 131.9L90.6 131.2L92.5 130.6L94.5 130.1L96.4 129.6L98.3 129.4L100.3 129.2L102.2 129.1L104.2 129.1L106.1 129.0L108.0 129.0L109.9 129.0L111.8 129.0L113.7 129.0L115.6 129.0L117.5 129.0L119.4 129.0L121.3 129.0L123.2 129.0L125.1 129.0L127.0 129.1L129.0 129.1L130.9 129.2L132.9 129.4L134.8 129.6L136.7 130.1L138.7 130.6L140.6 131.2L142.6 131.9L144.5 132.6L146.4 133.5L148.4 134.4L150.3 135.4L152.3 136.5L154.2 137.5L156.1 138.6L158.0 139.7L159.9 140.9L161.7 142.0L163.6 143.3L165.5 144.6L167.5 146.0L169.5 147.5L171.4 148.8L173.0 150.1L174.4 151.2L175.5 152.2L176.6 153.1L177.6 154.0L178.6 155.0L179.7 156.0L180.8 157.0L181.8 158.0L182.9 159.0L183.9 160.1L184.9 161.2L185.8 162.4L186.8 163.6L187.7 164.8L188.6 166.1L189.5 167.3L190.4 168.7L191.2 170.0L192.1 171.3L193.0 172.7L193.9 174.0L194.8 175.4L195.8 176.7L196.7 178.1L197.6 179.5L198.5 180.9L199.4 182.3L200.3 183.7L201.2 185.1L202.1 186.4L203.0 187.6L203.9 188.7L204.8 189.8L205.7 190.8L206.6 191.8L207.5 192.8L208.4 193.8L209.4 194.7L210.3 195.6L211.2 196.4L212.2 197.1L213.2 197.8L214.2 198.4L215.0 198.9L215.6 199.3" stroke="#171796" stroke-width="1.25" fill="none"/>
<line x1="229.4" y1="211.7" x2="438.9" y2="211.7" stroke="#c8c8c8" stroke-width="0.9"/>
<line x1="234.40" y1="123.2" x2="234.40" y2="213.2" stroke="#555" stroke-width="1.30"/>
<line x1="232.9" y1="191.4" x2="235.9" y2="191.4" stroke="#555" stroke-width="0.8"/>
<text x="225.9" y="193.7" class="tl" textLength="7.5" lengthAdjust="spacingAndGlyphs">0.1</text>
<line x1="232.9" y1="171.1" x2="235.9" y2="171.1" stroke="#555" stroke-width="0.8"/>
<text x="225.9" y="173.4" class="tl" textLength="7.5" lengthAdjust="spacingAndGlyphs">0.2</text>
<line x1="232.9" y1="150.8" x2="235.9" y2="150.8" stroke="#555" stroke-width="0.8"/>
<text x="225.9" y="153.1" class="tl" textLength="7.5" lengthAdjust="spacingAndGlyphs">0.3</text>
<line x1="232.9" y1="130.5" x2="235.9" y2="130.5" stroke="#555" stroke-width="0.8"/>
<text x="225.9" y="132.8" class="tl" textLength="7.5" lengthAdjust="spacingAndGlyphs">0.4</text>
<line x1="267.7" y1="210.5" x2="267.7" y2="212.5" stroke="#bbb" stroke-width="0.7"/>
<line x1="301.1" y1="210.5" x2="301.1" y2="212.5" stroke="#bbb" stroke-width="0.7"/>
<line x1="334.4" y1="210.5" x2="334.4" y2="212.5" stroke="#bbb" stroke-width="0.7"/>
<line x1="367.7" y1="210.5" x2="367.7" y2="212.5" stroke="#bbb" stroke-width="0.7"/>
<line x1="401.1" y1="210.5" x2="401.1" y2="212.5" stroke="#bbb" stroke-width="0.7"/>
<line x1="434.4" y1="210.5" x2="434.4" y2="212.5" stroke="#bbb" stroke-width="0.7"/>
<text x="234.4" y="220.5" class="xl" text-anchor="middle">0</text>
<text x="267.7" y="217.0" class="xl" text-anchor="middle"><tspan class="pi">π</tspan></text>
<line x1="265.9" y1="218.4" x2="269.5" y2="218.4" stroke="#3a3a3a" stroke-width="0.6"/>
<text x="267.7" y="224.5" class="xl" text-anchor="middle">3</text>
<text x="301.1" y="217.0" class="xl" text-anchor="middle">2 <tspan class="pi">π</tspan></text>
<line x1="297.4" y1="218.4" x2="304.8" y2="218.4" stroke="#3a3a3a" stroke-width="0.6"/>
<text x="301.1" y="224.5" class="xl" text-anchor="middle">3</text>
<text x="367.7" y="217.0" class="xl" text-anchor="middle">4 <tspan class="pi">π</tspan></text>
<line x1="364.0" y1="218.4" x2="371.4" y2="218.4" stroke="#3a3a3a" stroke-width="0.6"/>
<text x="367.7" y="224.5" class="xl" text-anchor="middle">3</text>
<text x="401.1" y="217.0" class="xl" text-anchor="middle">5 <tspan class="pi">π</tspan></text>
<line x1="397.4" y1="218.4" x2="404.8" y2="218.4" stroke="#3a3a3a" stroke-width="0.6"/>
<text x="401.1" y="224.5" class="xl" text-anchor="middle">3</text>
<text x="334.4" y="220.0" class="xl" text-anchor="middle"><tspan class="pi">π</tspan></text>
<text x="434.4" y="220.0" class="xl" text-anchor="middle">2 <tspan class="pi">π</tspan></text>
<text x="442.7" y="213.7" class="phi" text-anchor="middle">ϕ</text>
<text x="234.4" y="121.0" class="pl" text-anchor="middle">P</text>
<text x="240.5" y="129.3" class="lb">(d)</text>
<path d="M234.4 205.2L235.2 205.4L236.4 205.6L237.7 205.9L239.1 206.2L240.4 206.4L241.6 206.7L242.8 206.9L244.0 207.1L245.2 207.4L246.4 207.6L247.6 207.9L248.8 208.3L250.0 208.6L251.2 209.0L252.4 209.3L253.5 209.5L254.7 209.8L255.8 210.0L256.9 210.2L257.9 210.3L258.9 210.2L259.7 210.1L260.6 210.0L261.5 209.7L262.4 209.3L263.4 208.7L264.3 208.0L265.3 207.2L266.3 206.3L267.4 205.6L268.6 204.9L269.8 204.3L271.0 203.7L272.2 203.1L273.4 202.6L274.5 202.1L275.6 201.8L276.6 201.4L277.5 201.2L278.4 200.9L279.1 200.8L279.6 200.6L280.2 200.5L280.7 200.5L281.4 200.5L282.3 200.7L283.2 200.9L284.2 201.2L285.3 201.5L286.4 202.0L287.6 202.4L288.8 203.0L290.0 203.6L291.2 204.3L292.4 205.0L293.5 205.8L294.5 206.7L295.6 207.6L296.5 208.5L297.4 209.3L298.2 209.9L299.0 210.4L299.6 210.8L300.3 211.2L300.9 211.5L301.4 211.7L301.9 211.9L302.4 211.9L302.9 211.9L303.4 211.7L304.0 211.4L304.7 211.1L305.5 210.6L306.2 210.0L306.9 209.3L307.6 208.4L308.3 207.3L309.0 206.1L309.7 204.9L310.4 203.6L311.0 202.3L311.7 200.9L312.3 199.5L312.8 198.0L313.4 196.5L313.9 195.0L314.4 193.6L314.9 192.2L315.4 190.4L315.9 188.4L316.5 185.9L317.1 183.2L317.7 180.1L318.4 176.8L319.2 173.1L320.1 168.8L321.2 163.9L322.3 158.8L323.4 154.0L324.4 149.8L325.4 146.3L326.3 143.1L327.2 140.3L328.1 137.9L328.9 135.8L329.6 134.0L330.2 132.6L330.8 131.5L331.4 130.7L331.9 129.9L332.4 129.3L332.9 128.9L333.4 128.6L333.9 128.5L334.4 128.5L334.9 128.5L335.4 128.6L335.9 128.9L336.4 129.3L336.9 129.9L337.4 130.7L338.0 131.5L338.6 132.6L339.2 134.0L339.9 135.8L340.7 137.9L341.6 140.3L342.5 143.1L343.4 146.3L344.4 149.8L345.4 154.0L346.5 158.8L347.6 163.9L348.7 168.8L349.6 173.1L350.4 176.8L351.1 180.1L351.7 183.2L352.3 185.9L352.9 188.4L353.4 190.4L353.9 192.2L354.4 193.6L354.9 195.0L355.4 196.5L356.0 198.0L356.5 199.5L357.1 200.9L357.8 202.3L358.4 203.6L359.1 204.9L359.8 206.1L360.5 207.3L361.2 208.4L361.9 209.3L362.6 210.0L363.3 210.6L364.1 211.1L364.8 211.4L365.4 211.7L365.9 211.9L366.4 211.9L366.9 211.9L367.4 211.7L367.9 211.5L368.5 211.2L369.2 210.8L369.8 210.4L370.6 209.9L371.4 209.3L372.3 208.5L373.2 207.6L374.3 206.7L375.3 205.8L376.4 205.0L377.6 204.3L378.8 203.6L380.0 203.0L381.2 202.4L382.4 202.0L383.5 201.5L384.6 201.2L385.6 200.9L386.5 200.7L387.4 200.5L388.1 200.5L388.6 200.5L389.2 200.6L389.7 200.8L390.4 200.9L391.3 201.2L392.2 201.4L393.2 201.8L394.3 202.1L395.4 202.6L396.6 203.1L397.8 203.7L399.0 204.3L400.2 204.9L401.4 205.6L402.5 206.3L403.5 207.2L404.5 208.0L405.4 208.7L406.4 209.3L407.3 209.7L408.2 210.0L409.1 210.1L409.9 210.2L410.9 210.3L411.9 210.2L413.0 210.0L414.1 209.8L415.3 209.5L416.4 209.3L417.6 209.0L418.8 208.6L420.0 208.3L421.2 207.9L422.4 207.6L423.6 207.4L424.8 207.1L426.0 206.9L427.2 206.7L428.4 206.4L429.7 206.2L431.1 205.9L432.4 205.6L433.6 205.4L434.4 205.2" stroke="#27aeb6" stroke-width="1.3" fill="none" stroke-dasharray="6.8 5.2"/>
<path d="M234.4 205.2L234.9 205.1L235.7 204.9L236.5 204.7L237.5 204.4L238.4 204.0L239.3 203.5L240.2 202.9L241.2 202.1L242.2 201.2L243.4 200.1L244.8 198.7L246.3 197.0L247.9 195.1L249.5 193.3L250.9 191.6L252.1 190.2L253.2 188.8L254.3 187.6L255.3 186.4L256.4 185.1L257.5 183.8L258.6 182.6L259.7 181.3L260.8 180.1L261.9 178.8L263.0 177.6L264.1 176.3L265.2 175.1L266.3 173.8L267.4 172.5L268.6 171.2L269.8 169.9L271.0 168.6L272.2 167.3L273.4 166.0L274.6 164.9L275.8 163.7L277.0 162.7L278.2 161.6L279.4 160.5L280.6 159.5L281.8 158.4L282.9 157.4L284.1 156.4L285.4 155.3L286.7 154.1L288.1 153.0L289.5 151.8L290.9 150.6L292.4 149.4L294.0 148.1L295.7 146.7L297.4 145.3L299.1 143.9L300.8 142.7L302.4 141.5L303.9 140.4L305.4 139.4L306.9 138.4L308.4 137.4L310.0 136.4L311.6 135.4L313.3 134.4L314.8 133.5L316.3 132.7L317.6 132.1L318.9 131.5L320.0 131.0L321.2 130.5L322.4 130.1L323.6 129.7L324.9 129.4L326.1 129.1L327.4 128.9L328.6 128.7L329.8 128.5L330.9 128.3L332.1 128.2L333.2 128.1L334.4 128.1L335.6 128.1L336.7 128.2L337.9 128.3L339.0 128.5L340.2 128.7L341.4 128.9L342.7 129.1L343.9 129.4L345.2 129.7L346.4 130.1L347.6 130.5L348.8 131.0L349.9 131.5L351.2 132.1L352.5 132.7L354.0 133.5L355.5 134.4L357.2 135.4L358.8 136.4L360.4 137.4L361.9 138.4L363.4 139.4L364.9 140.4L366.4 141.5L368.0 142.7L369.7 143.9L371.4 145.3L373.1 146.7L374.8 148.1L376.4 149.4L377.9 150.6L379.3 151.8L380.7 153.0L382.1 154.1L383.4 155.3L384.7 156.4L385.9 157.4L387.0 158.4L388.2 159.5L389.4 160.5L390.6 161.6L391.8 162.7L393.0 163.7L394.2 164.9L395.4 166.0L396.6 167.3L397.8 168.6L399.0 169.9L400.2 171.2L401.4 172.5L402.5 173.8L403.6 175.1L404.7 176.3L405.8 177.6L406.9 178.8L408.0 180.1L409.1 181.3L410.2 182.6L411.3 183.8L412.4 185.1L413.5 186.4L414.5 187.6L415.6 188.8L416.7 190.2L417.9 191.6L419.3 193.3L420.9 195.1L422.5 197.0L424.0 198.7L425.4 200.1L426.6 201.2L427.6 202.1L428.6 202.9L429.5 203.5L430.4 204.0L431.3 204.4L432.3 204.7L433.1 204.9L433.9 205.1L434.4 205.2" stroke="#c42424" stroke-width="1.3" fill="none" stroke-dasharray="11 4.5 1.6 4.5"/>
<path d="M234.4 205.2L234.9 205.0L235.7 204.8L236.6 204.5L237.5 204.1L238.4 203.6L239.2 203.0L240.0 202.4L240.8 201.6L241.7 200.7L242.8 199.5L244.2 197.9L245.7 196.0L247.4 194.0L249.0 192.0L250.5 190.2L251.7 188.7L252.9 187.3L253.9 186.0L254.9 184.8L256.0 183.5L257.1 182.2L258.2 180.9L259.2 179.7L260.3 178.4L261.4 177.2L262.5 176.0L263.6 174.8L264.7 173.6L265.8 172.3L267.0 171.1L268.2 169.8L269.5 168.5L270.8 167.1L272.1 165.8L273.4 164.6L274.6 163.4L275.8 162.3L277.0 161.3L278.2 160.2L279.4 159.1L280.6 158.1L281.8 157.0L282.9 156.0L284.1 154.9L285.4 153.8L286.7 152.7L288.1 151.5L289.5 150.3L290.9 149.0L292.4 147.8L294.0 146.4L295.7 145.0L297.4 143.6L299.1 142.3L300.8 141.1L302.4 139.9L303.9 138.9L305.4 137.9L306.9 136.9L308.4 136.0L310.0 135.1L311.6 134.2L313.3 133.4L314.8 132.6L316.3 131.9L317.6 131.3L318.9 130.8L320.0 130.4L321.2 130.0L322.4 129.7L323.6 129.4L324.9 129.1L326.1 128.9L327.4 128.6L328.6 128.5L329.8 128.3L330.9 128.2L332.1 128.1L333.2 128.1L334.4 128.1L335.6 128.1L336.7 128.1L337.9 128.2L339.0 128.3L340.2 128.5L341.4 128.6L342.7 128.9L343.9 129.1L345.2 129.4L346.4 129.7L347.6 130.0L348.8 130.4L349.9 130.8L351.2 131.3L352.5 131.9L354.0 132.6L355.5 133.4L357.2 134.2L358.8 135.1L360.4 136.0L361.9 136.9L363.4 137.9L364.9 138.9L366.4 139.9L368.0 141.1L369.7 142.3L371.4 143.6L373.1 145.0L374.8 146.4L376.4 147.8L377.9 149.0L379.3 150.3L380.7 151.5L382.1 152.7L383.4 153.8L384.7 154.9L385.9 156.0L387.0 157.0L388.2 158.1L389.4 159.1L390.6 160.2L391.8 161.3L393.0 162.3L394.2 163.4L395.4 164.6L396.7 165.8L398.0 167.1L399.3 168.5L400.6 169.8L401.8 171.1L403.0 172.3L404.1 173.6L405.2 174.8L406.3 176.0L407.4 177.2L408.5 178.4L409.6 179.7L410.6 180.9L411.7 182.2L412.8 183.5L413.9 184.8L414.9 186.0L415.9 187.3L417.1 188.7L418.3 190.2L419.8 192.0L421.4 194.0L423.1 196.0L424.6 197.9L426.0 199.5L427.1 200.7L428.0 201.6L428.8 202.4L429.6 203.0L430.4 203.6L431.3 204.1L432.2 204.5L433.1 204.8L433.9 205.0L434.4 205.2" stroke="#171796" stroke-width="1.25" fill="none"/>
<line x1="11.7" y1="319.1" x2="221.2" y2="319.1" stroke="#c8c8c8" stroke-width="0.9"/>
<line x1="16.70" y1="231.2" x2="16.70" y2="320.6" stroke="#555" stroke-width="1.30"/>
<line x1="15.2" y1="298.8" x2="18.2" y2="298.8" stroke="#555" stroke-width="0.8"/>
<text x="8.2" y="301.2" class="tl" textLength="7.5" lengthAdjust="spacingAndGlyphs">0.1</text>
<line x1="15.2" y1="278.5" x2="18.2" y2="278.5" stroke="#555" stroke-width="0.8"/>
<text x="8.2" y="280.9" class="tl" textLength="7.5" lengthAdjust="spacingAndGlyphs">0.2</text>
<line x1="15.2" y1="258.2" x2="18.2" y2="258.2" stroke="#555" stroke-width="0.8"/>
<text x="8.2" y="260.6" class="tl" textLength="7.5" lengthAdjust="spacingAndGlyphs">0.3</text>
<line x1="15.2" y1="237.9" x2="18.2" y2="237.9" stroke="#555" stroke-width="0.8"/>
<text x="8.2" y="240.3" class="tl" textLength="7.5" lengthAdjust="spacingAndGlyphs">0.4</text>
<line x1="50.0" y1="317.9" x2="50.0" y2="319.9" stroke="#bbb" stroke-width="0.7"/>
<line x1="83.4" y1="317.9" x2="83.4" y2="319.9" stroke="#bbb" stroke-width="0.7"/>
<line x1="116.7" y1="317.9" x2="116.7" y2="319.9" stroke="#bbb" stroke-width="0.7"/>
<line x1="150.0" y1="317.9" x2="150.0" y2="319.9" stroke="#bbb" stroke-width="0.7"/>
<line x1="183.4" y1="317.9" x2="183.4" y2="319.9" stroke="#bbb" stroke-width="0.7"/>
<line x1="216.7" y1="317.9" x2="216.7" y2="319.9" stroke="#bbb" stroke-width="0.7"/>
<text x="16.7" y="327.9" class="xl" text-anchor="middle">0</text>
<text x="50.0" y="324.4" class="xl" text-anchor="middle"><tspan class="pi">π</tspan></text>
<line x1="48.2" y1="325.8" x2="51.8" y2="325.8" stroke="#3a3a3a" stroke-width="0.6"/>
<text x="50.0" y="331.9" class="xl" text-anchor="middle">3</text>
<text x="83.4" y="324.4" class="xl" text-anchor="middle">2 <tspan class="pi">π</tspan></text>
<line x1="79.7" y1="325.8" x2="87.1" y2="325.8" stroke="#3a3a3a" stroke-width="0.6"/>
<text x="83.4" y="331.9" class="xl" text-anchor="middle">3</text>
<text x="150.0" y="324.4" class="xl" text-anchor="middle">4 <tspan class="pi">π</tspan></text>
<line x1="146.3" y1="325.8" x2="153.7" y2="325.8" stroke="#3a3a3a" stroke-width="0.6"/>
<text x="150.0" y="331.9" class="xl" text-anchor="middle">3</text>
<text x="183.4" y="324.4" class="xl" text-anchor="middle">5 <tspan class="pi">π</tspan></text>
<line x1="179.7" y1="325.8" x2="187.1" y2="325.8" stroke="#3a3a3a" stroke-width="0.6"/>
<text x="183.4" y="331.9" class="xl" text-anchor="middle">3</text>
<text x="116.7" y="327.4" class="xl" text-anchor="middle"><tspan class="pi">π</tspan></text>
<text x="216.7" y="327.4" class="xl" text-anchor="middle">2 <tspan class="pi">π</tspan></text>
<text x="225.0" y="321.1" class="phi" text-anchor="middle">ϕ</text>
<text x="16.7" y="228.4" class="pl" text-anchor="middle">P</text>
<text x="21.8" y="233.9" class="lb">(e)</text>
<path d="M16.7 316.3L17.6 316.4L19.0 316.6L20.5 316.8L22.1 317.1L23.7 317.3L25.2 317.4L26.7 317.6L28.3 317.8L29.9 317.9L31.4 317.9L32.9 317.8L34.3 317.6L35.7 317.4L37.2 317.1L38.7 316.9L40.3 316.6L41.9 316.2L43.6 315.8L45.2 315.6L46.7 315.4L48.0 315.5L49.2 315.7L50.4 316.0L51.5 316.3L52.7 316.7L54.0 317.1L55.3 317.6L56.6 318.1L58.0 318.5L59.2 318.7L60.4 318.7L61.4 318.6L62.5 318.3L63.6 318.0L64.7 317.5L65.9 316.8L67.1 316.0L68.3 315.1L69.5 314.2L70.7 313.4L71.9 312.7L73.2 312.0L74.5 311.4L75.7 310.8L76.7 310.4L77.5 310.1L78.2 309.9L78.8 309.8L79.4 309.8L80.0 310.0L80.7 310.2L81.4 310.6L82.2 311.1L83.0 311.7L83.8 312.4L84.7 313.2L85.8 314.3L86.8 315.3L87.8 316.3L88.7 317.1L89.5 317.7L90.2 318.2L90.8 318.6L91.4 318.8L92.0 318.7L92.6 318.4L93.1 317.8L93.7 317.0L94.2 316.1L94.7 315.0L95.2 313.9L95.6 312.7L96.1 311.4L96.6 309.9L97.1 308.1L97.7 306.2L98.4 304.0L99.1 301.7L99.8 299.1L100.5 296.4L101.2 293.3L101.9 289.8L102.5 286.3L103.2 282.6L103.9 279.1L104.6 275.6L105.3 272.1L105.9 268.6L106.6 265.2L107.3 262.1L108.0 259.1L108.7 256.3L109.4 253.7L110.1 251.3L110.7 249.1L111.2 247.1L111.7 245.5L112.1 244.0L112.5 242.6L112.9 241.4L113.3 240.1L113.8 238.9L114.2 237.9L114.6 237.0L115.0 236.3L115.4 235.8L115.7 235.5L116.0 235.3L116.4 235.3L116.7 235.3L117.0 235.3L117.4 235.3L117.7 235.5L118.0 235.8L118.4 236.3L118.8 237.0L119.2 237.9L119.6 238.9L120.1 240.1L120.5 241.4L120.9 242.6L121.3 244.0L121.7 245.5L122.2 247.1L122.7 249.1L123.3 251.3L124.0 253.7L124.7 256.3L125.4 259.1L126.1 262.1L126.8 265.2L127.5 268.6L128.1 272.1L128.8 275.6L129.5 279.1L130.2 282.6L130.9 286.3L131.5 289.8L132.2 293.3L132.9 296.4L133.6 299.1L134.3 301.7L135.0 304.0L135.7 306.2L136.3 308.1L136.8 309.9L137.3 311.4L137.8 312.7L138.2 313.9L138.7 315.0L139.2 316.1L139.7 317.0L140.3 317.8L140.8 318.4L141.4 318.7L142.0 318.8L142.6 318.6L143.2 318.2L143.9 317.7L144.7 317.1L145.6 316.3L146.6 315.3L147.6 314.3L148.7 313.2L149.6 312.4L150.4 311.7L151.2 311.1L152.0 310.6L152.7 310.2L153.4 310.0L154.0 309.8L154.6 309.8L155.2 309.9L155.9 310.1L156.7 310.4L157.7 310.8L158.9 311.4L160.2 312.0L161.5 312.7L162.7 313.4L163.9 314.2L165.1 315.1L166.3 316.0L167.5 316.8L168.7 317.5L169.8 318.0L170.9 318.3L172.0 318.6L173.0 318.7L174.2 318.7L175.4 318.5L176.8 318.1L178.1 317.6L179.4 317.1L180.7 316.7L181.9 316.3L183.0 316.0L184.2 315.7L185.4 315.5L186.7 315.4L188.2 315.6L189.8 315.8L191.5 316.2L193.1 316.6L194.7 316.9L196.2 317.1L197.7 317.4L199.1 317.6L200.5 317.8L202.0 317.9L203.5 317.9L205.1 317.8L206.7 317.6L208.2 317.4L209.7 317.3L211.3 317.1L212.9 316.8L214.4 316.6L215.8 316.4L216.7 316.3" stroke="#27aeb6" stroke-width="1.3" fill="none" stroke-dasharray="6.8 5.2"/>
<path d="M16.7 316.4L17.2 316.3L18.0 316.2L18.9 316.0L19.8 315.7L20.7 315.4L21.5 315.1L22.3 314.6L23.2 314.1L23.9 313.6L24.7 313.0L25.4 312.4L26.1 311.8L26.7 311.1L27.3 310.5L28.0 309.8L28.6 309.1L29.1 308.4L29.7 307.7L30.4 306.9L31.4 305.9L32.7 304.6L34.2 303.2L35.9 301.6L37.6 299.9L39.2 298.4L40.7 296.9L42.2 295.5L43.7 294.0L45.3 292.5L46.8 291.1L48.4 289.6L50.0 288.1L51.5 286.7L53.1 285.2L54.7 283.8L56.2 282.4L57.8 281.0L59.3 279.6L60.8 278.2L62.3 276.9L63.8 275.5L65.4 274.2L66.9 272.8L68.5 271.5L70.0 270.2L71.6 268.9L73.1 267.6L74.7 266.4L76.2 265.1L77.7 263.9L79.0 262.6L80.3 261.4L81.5 260.1L82.7 258.8L84.0 257.6L85.4 256.3L86.9 255.0L88.3 253.8L89.7 252.6L91.0 251.5L92.1 250.6L93.0 249.8L93.8 249.1L94.7 248.4L95.6 247.6L96.6 246.8L97.5 245.9L98.6 245.0L99.7 244.0L100.9 243.0L102.3 241.8L104.0 240.6L105.7 239.3L107.3 238.2L108.7 237.3L109.9 236.7L111.0 236.3L112.0 236.0L112.9 235.8L113.7 235.7L114.4 235.5L115.0 235.4L115.6 235.3L116.1 235.3L116.7 235.3L117.3 235.3L117.8 235.3L118.4 235.4L119.0 235.5L119.7 235.7L120.5 235.8L121.4 236.0L122.4 236.3L123.5 236.7L124.7 237.3L126.1 238.2L127.7 239.3L129.4 240.6L131.1 241.8L132.5 243.0L133.7 244.0L134.8 245.0L135.9 245.9L136.8 246.8L137.8 247.6L138.7 248.4L139.6 249.1L140.4 249.8L141.3 250.6L142.4 251.5L143.7 252.6L145.1 253.8L146.5 255.0L148.0 256.3L149.4 257.6L150.7 258.8L151.9 260.1L153.1 261.4L154.4 262.6L155.7 263.9L157.2 265.1L158.7 266.4L160.3 267.6L161.8 268.9L163.4 270.2L164.9 271.5L166.5 272.8L168.0 274.2L169.6 275.5L171.1 276.9L172.6 278.2L174.1 279.6L175.6 281.0L177.2 282.4L178.7 283.8L180.3 285.2L181.9 286.7L183.4 288.1L185.0 289.6L186.6 291.1L188.1 292.5L189.7 294.0L191.2 295.5L192.7 296.9L194.2 298.4L195.8 299.9L197.5 301.6L199.2 303.2L200.7 304.6L202.0 305.9L203.0 306.9L203.7 307.7L204.3 308.4L204.8 309.1L205.4 309.8L206.1 310.5L206.7 311.1L207.3 311.8L208.0 312.4L208.7 313.0L209.5 313.6L210.2 314.1L211.1 314.6L211.9 315.1L212.7 315.4L213.6 315.7L214.5 316.0L215.4 316.2L216.2 316.3L216.7 316.4" stroke="#c42424" stroke-width="1.3" fill="none" stroke-dasharray="11 4.5 1.6 4.5"/>
<path d="M16.7 316.4L17.2 316.3L18.0 316.2L18.9 316.0L19.8 315.7L20.7 315.4L21.5 315.1L22.3 314.6L23.2 314.1L23.9 313.6L24.7 313.0L25.4 312.4L26.1 311.8L26.7 311.1L27.3 310.5L28.0 309.8L28.6 309.1L29.1 308.5L29.7 307.9L30.4 307.1L31.4 306.1L32.7 304.8L34.2 303.4L35.9 301.8L37.6 300.1L39.2 298.6L40.7 297.1L42.2 295.7L43.7 294.2L45.3 292.7L46.8 291.3L48.4 289.8L50.0 288.3L51.5 286.9L53.1 285.4L54.7 284.0L56.2 282.6L57.8 281.2L59.3 279.8L60.8 278.5L62.3 277.1L63.8 275.7L65.4 274.2L66.9 272.8L68.5 271.4L70.0 270.0L71.6 268.6L73.1 267.2L74.7 265.9L76.2 264.5L77.7 263.1L79.0 261.6L80.3 260.2L81.5 258.7L82.7 257.2L84.0 255.8L85.4 254.3L86.7 252.8L88.2 251.3L89.6 249.9L91.0 248.5L92.4 247.1L93.8 245.8L95.3 244.5L96.7 243.3L98.1 242.2L99.5 241.1L100.9 240.2L102.3 239.4L103.7 238.6L105.1 237.9L106.6 237.3L108.1 236.8L109.5 236.3L110.9 236.0L112.2 235.7L113.3 235.5L114.2 235.3L115.0 235.3L115.8 235.3L116.7 235.3L117.6 235.3L118.4 235.3L119.2 235.3L120.1 235.5L121.2 235.7L122.5 236.0L123.9 236.3L125.3 236.8L126.8 237.3L128.3 237.9L129.7 238.6L131.1 239.4L132.5 240.2L133.9 241.1L135.3 242.2L136.7 243.3L138.1 244.5L139.6 245.8L141.0 247.1L142.4 248.5L143.8 249.9L145.2 251.3L146.7 252.8L148.0 254.3L149.4 255.8L150.7 257.2L151.9 258.7L153.1 260.2L154.4 261.6L155.7 263.1L157.2 264.5L158.7 265.9L160.3 267.2L161.8 268.6L163.4 270.0L164.9 271.4L166.5 272.8L168.0 274.2L169.6 275.7L171.1 277.1L172.6 278.5L174.1 279.8L175.6 281.2L177.2 282.6L178.7 284.0L180.3 285.4L181.9 286.9L183.4 288.3L185.0 289.8L186.6 291.3L188.1 292.7L189.7 294.2L191.2 295.7L192.7 297.1L194.2 298.6L195.8 300.1L197.5 301.8L199.2 303.4L200.7 304.8L202.0 306.1L203.0 307.1L203.7 307.9L204.3 308.5L204.8 309.1L205.4 309.8L206.1 310.5L206.7 311.1L207.3 311.8L208.0 312.4L208.7 313.0L209.5 313.6L210.2 314.1L211.1 314.6L211.9 315.1L212.7 315.4L213.6 315.7L214.5 316.0L215.4 316.2L216.2 316.3L216.7 316.4" stroke="#171796" stroke-width="1.25" fill="none"/>
<line x1="230.5" y1="320.1" x2="440.0" y2="320.1" stroke="#c8c8c8" stroke-width="0.9"/>
<line x1="235.50" y1="231.2" x2="235.50" y2="321.6" stroke="#555" stroke-width="1.30"/>
<line x1="234.0" y1="299.5" x2="237.0" y2="299.5" stroke="#555" stroke-width="0.8"/>
<text x="227.0" y="301.9" class="tl" textLength="7.5" lengthAdjust="spacingAndGlyphs">0.1</text>
<line x1="234.0" y1="278.9" x2="237.0" y2="278.9" stroke="#555" stroke-width="0.8"/>
<text x="227.0" y="281.3" class="tl" textLength="7.5" lengthAdjust="spacingAndGlyphs">0.2</text>
<line x1="234.0" y1="258.3" x2="237.0" y2="258.3" stroke="#555" stroke-width="0.8"/>
<text x="227.0" y="260.7" class="tl" textLength="7.5" lengthAdjust="spacingAndGlyphs">0.3</text>
<line x1="234.0" y1="237.7" x2="237.0" y2="237.7" stroke="#555" stroke-width="0.8"/>
<text x="227.0" y="240.1" class="tl" textLength="7.5" lengthAdjust="spacingAndGlyphs">0.4</text>
<line x1="268.8" y1="318.9" x2="268.8" y2="320.9" stroke="#bbb" stroke-width="0.7"/>
<line x1="302.2" y1="318.9" x2="302.2" y2="320.9" stroke="#bbb" stroke-width="0.7"/>
<line x1="335.5" y1="318.9" x2="335.5" y2="320.9" stroke="#bbb" stroke-width="0.7"/>
<line x1="368.8" y1="318.9" x2="368.8" y2="320.9" stroke="#bbb" stroke-width="0.7"/>
<line x1="402.2" y1="318.9" x2="402.2" y2="320.9" stroke="#bbb" stroke-width="0.7"/>
<line x1="435.5" y1="318.9" x2="435.5" y2="320.9" stroke="#bbb" stroke-width="0.7"/>
<text x="235.5" y="328.9" class="xl" text-anchor="middle">0</text>
<text x="268.8" y="325.4" class="xl" text-anchor="middle"><tspan class="pi">π</tspan></text>
<line x1="267.0" y1="326.8" x2="270.6" y2="326.8" stroke="#3a3a3a" stroke-width="0.6"/>
<text x="268.8" y="332.9" class="xl" text-anchor="middle">3</text>
<text x="302.2" y="325.4" class="xl" text-anchor="middle">2 <tspan class="pi">π</tspan></text>
<line x1="298.5" y1="326.8" x2="305.9" y2="326.8" stroke="#3a3a3a" stroke-width="0.6"/>
<text x="302.2" y="332.9" class="xl" text-anchor="middle">3</text>
<text x="368.8" y="325.4" class="xl" text-anchor="middle">4 <tspan class="pi">π</tspan></text>
<line x1="365.1" y1="326.8" x2="372.5" y2="326.8" stroke="#3a3a3a" stroke-width="0.6"/>
<text x="368.8" y="332.9" class="xl" text-anchor="middle">3</text>
<text x="402.2" y="325.4" class="xl" text-anchor="middle">5 <tspan class="pi">π</tspan></text>
<line x1="398.5" y1="326.8" x2="405.9" y2="326.8" stroke="#3a3a3a" stroke-width="0.6"/>
<text x="402.2" y="332.9" class="xl" text-anchor="middle">3</text>
<text x="335.5" y="328.4" class="xl" text-anchor="middle"><tspan class="pi">π</tspan></text>
<text x="435.5" y="328.4" class="xl" text-anchor="middle">2 <tspan class="pi">π</tspan></text>
<text x="443.8" y="322.1" class="phi" text-anchor="middle">ϕ</text>
<text x="235.5" y="229.0" class="pl" text-anchor="middle">P</text>
<text x="239.8" y="233.3" class="lb">(f)</text>
<path d="M235.5 318.9L236.8 318.6L238.8 318.3L241.0 317.9L243.1 317.6L245.0 317.4L246.5 317.4L247.7 317.4L248.9 317.5L250.1 317.5L251.5 317.6L253.1 317.7L254.9 317.8L256.8 317.8L258.7 317.9L260.5 318.0L262.3 318.2L264.0 318.4L265.7 318.6L267.5 318.7L269.2 318.9L271.0 318.9L272.7 319.0L274.5 319.1L276.2 319.0L278.0 318.9L279.8 318.5L281.8 318.0L283.7 317.5L285.4 317.1L286.9 316.8L288.0 316.8L288.9 316.9L289.6 317.1L290.4 317.3L291.3 317.6L292.5 318.1L293.9 318.8L295.3 319.4L296.7 319.9L297.9 319.9L298.9 319.4L299.7 318.6L300.5 317.6L301.3 316.4L302.3 315.4L303.5 314.2L304.9 312.8L306.3 311.4L307.7 310.3L308.9 309.8L309.9 309.9L310.8 310.4L311.6 311.3L312.5 312.3L313.3 313.3L314.2 314.5L315.2 315.8L316.1 317.3L317.0 318.6L317.7 319.5L318.2 320.1L318.7 320.5L319.0 320.6L319.3 320.5L319.7 320.1L320.2 319.3L320.7 318.2L321.2 316.8L321.7 315.3L322.1 313.9L322.4 312.6L322.7 311.2L323.0 309.7L323.2 308.2L323.5 306.7L323.7 305.2L324.0 303.7L324.2 302.1L324.4 300.4L324.7 298.5L325.1 296.3L325.4 293.8L325.9 291.2L326.3 288.6L326.7 286.1L327.1 283.9L327.4 281.9L327.8 279.9L328.1 277.4L328.6 274.4L329.2 270.3L329.8 265.3L330.5 260.1L331.1 255.1L331.7 251.1L332.2 248.0L332.7 245.4L333.2 243.3L333.6 241.6L334.0 240.2L334.4 239.1L334.7 238.3L334.9 237.9L335.2 237.7L335.5 237.7L335.8 237.7L336.1 237.9L336.3 238.3L336.6 239.1L337.0 240.2L337.4 241.6L337.8 243.3L338.3 245.4L338.8 248.0L339.3 251.1L339.9 255.1L340.5 260.1L341.2 265.3L341.8 270.3L342.4 274.4L342.9 277.4L343.2 279.9L343.6 281.9L343.9 283.9L344.3 286.1L344.7 288.6L345.1 291.2L345.6 293.8L345.9 296.3L346.3 298.5L346.6 300.4L346.8 302.1L347.0 303.7L347.3 305.2L347.5 306.7L347.8 308.2L348.0 309.7L348.3 311.2L348.6 312.6L348.9 313.9L349.3 315.3L349.8 316.8L350.3 318.2L350.8 319.3L351.3 320.1L351.7 320.5L352.0 320.6L352.3 320.5L352.8 320.1L353.3 319.5L354.0 318.6L354.9 317.3L355.8 315.8L356.8 314.5L357.7 313.3L358.5 312.3L359.4 311.3L360.2 310.4L361.1 309.9L362.1 309.8L363.3 310.3L364.7 311.4L366.1 312.8L367.5 314.2L368.7 315.4L369.7 316.4L370.5 317.6L371.3 318.6L372.1 319.4L373.1 319.9L374.3 319.9L375.7 319.4L377.1 318.8L378.5 318.1L379.7 317.6L380.6 317.3L381.4 317.1L382.1 316.9L383.0 316.8L384.1 316.8L385.6 317.1L387.3 317.5L389.2 318.0L391.2 318.5L393.0 318.9L394.8 319.0L396.5 319.1L398.3 319.0L400.0 318.9L401.8 318.9L403.5 318.7L405.3 318.6L407.0 318.4L408.7 318.2L410.5 318.0L412.3 317.9L414.2 317.8L416.1 317.8L417.9 317.7L419.5 317.6L420.9 317.5L422.1 317.5L423.3 317.4L424.5 317.4L426.0 317.4L427.9 317.6L430.0 317.9L432.2 318.3L434.2 318.6L435.5 318.9" stroke="#27aeb6" stroke-width="1.3" fill="none" stroke-dasharray="6.8 5.2"/>
<path d="M235.5 318.9L236.3 318.3L237.5 317.6L238.8 316.6L240.2 315.7L241.5 314.7L242.7 313.8L243.9 312.9L245.0 311.9L246.2 310.9L247.5 309.8L248.8 308.7L250.2 307.6L251.6 306.4L253.0 305.2L254.5 304.0L256.0 302.8L257.5 301.6L259.1 300.4L260.7 299.1L262.4 297.6L264.3 296.0L266.5 294.2L268.6 292.3L270.6 290.6L272.3 289.2L273.6 288.2L274.5 287.4L275.3 286.8L276.1 286.2L277.0 285.5L277.9 284.6L278.8 283.8L279.8 282.8L280.9 281.8L282.2 280.5L283.9 279.2L285.9 277.6L288.0 276.0L290.1 274.3L292.1 272.5L294.0 270.6L295.8 268.5L297.6 266.4L299.2 264.4L300.8 262.6L302.2 261.1L303.5 259.8L304.6 258.6L305.8 257.5L307.0 256.2L308.2 254.9L309.4 253.6L310.6 252.3L311.9 250.9L313.2 249.6L314.6 248.4L316.2 247.1L317.7 245.8L319.3 244.6L320.9 243.5L322.5 242.4L324.0 241.3L325.6 240.3L327.1 239.4L328.6 238.7L330.0 238.2L331.4 237.8L332.8 237.5L334.1 237.3L335.5 237.3L336.9 237.3L338.2 237.5L339.6 237.8L341.0 238.2L342.4 238.7L343.9 239.4L345.4 240.3L347.0 241.3L348.5 242.4L350.1 243.5L351.7 244.6L353.3 245.8L354.8 247.1L356.4 248.4L357.8 249.6L359.1 250.9L360.4 252.3L361.6 253.6L362.8 254.9L364.0 256.2L365.2 257.5L366.4 258.6L367.5 259.8L368.8 261.1L370.2 262.6L371.8 264.4L373.4 266.4L375.2 268.5L377.0 270.6L378.9 272.5L380.9 274.3L383.0 276.0L385.1 277.6L387.1 279.2L388.8 280.5L390.1 281.8L391.2 282.8L392.2 283.8L393.1 284.6L394.0 285.5L394.9 286.2L395.7 286.8L396.5 287.4L397.4 288.2L398.7 289.2L400.4 290.6L402.4 292.3L404.5 294.2L406.7 296.0L408.6 297.6L410.3 299.1L411.9 300.4L413.5 301.6L415.0 302.8L416.5 304.0L418.0 305.2L419.4 306.4L420.8 307.6L422.2 308.7L423.5 309.8L424.8 310.9L426.0 311.9L427.1 312.9L428.3 313.8L429.5 314.7L430.8 315.7L432.2 316.6L433.5 317.6L434.7 318.3L435.5 318.9" stroke="#c42424" stroke-width="1.3" fill="none" stroke-dasharray="11 4.5 1.6 4.5"/>
<path d="M235.5 318.9L236.2 318.4L237.1 317.6L238.1 316.8L239.3 315.9L240.5 315.0L241.7 314.0L243.1 312.9L244.4 311.9L245.8 310.8L247.2 309.8L248.5 308.9L249.8 307.9L251.2 307.0L252.5 306.2L253.8 305.3L255.1 304.4L256.4 303.5L257.8 302.7L259.1 301.8L260.4 300.9L261.7 300.1L263.0 299.2L264.4 298.4L265.7 297.5L267.0 296.6L268.3 295.7L269.6 294.8L271.0 293.9L272.3 292.9L273.6 291.9L274.9 290.8L276.3 289.6L277.6 288.4L279.0 287.0L280.3 285.5L281.6 283.8L282.9 281.8L284.3 279.8L285.6 277.8L286.9 275.8L288.2 274.0L289.5 272.2L290.8 270.4L292.1 268.5L293.5 266.5L294.9 264.4L296.4 262.1L297.8 259.8L299.3 257.5L300.8 255.2L302.3 253.0L303.8 250.7L305.4 248.5L306.9 246.4L308.5 244.5L310.1 242.8L311.6 241.3L313.2 239.9L314.7 238.7L316.3 237.7L317.8 236.9L319.4 236.4L320.9 236.0L322.5 235.8L324.0 235.6L325.6 235.7L327.3 235.9L328.9 236.3L330.4 236.6L331.7 236.9L332.7 237.0L333.5 237.1L334.2 237.2L334.8 237.3L335.5 237.3L336.2 237.3L336.8 237.2L337.5 237.1L338.3 237.0L339.3 236.9L340.6 236.6L342.1 236.3L343.7 235.9L345.4 235.7L347.0 235.6L348.5 235.8L350.1 236.0L351.6 236.4L353.2 236.9L354.7 237.7L356.3 238.7L357.8 239.9L359.4 241.3L360.9 242.8L362.5 244.5L364.1 246.4L365.6 248.5L367.2 250.7L368.7 253.0L370.2 255.2L371.7 257.5L373.2 259.8L374.6 262.1L376.1 264.4L377.5 266.5L378.9 268.5L380.2 270.4L381.5 272.2L382.8 274.0L384.1 275.8L385.4 277.8L386.7 279.8L388.1 281.8L389.4 283.8L390.7 285.5L392.0 287.0L393.4 288.4L394.7 289.6L396.1 290.8L397.4 291.9L398.7 292.9L400.0 293.9L401.4 294.8L402.7 295.7L404.0 296.6L405.3 297.5L406.6 298.4L408.0 299.2L409.3 300.1L410.6 300.9L411.9 301.8L413.2 302.7L414.6 303.5L415.9 304.4L417.2 305.3L418.5 306.2L419.8 307.0L421.2 307.9L422.5 308.9L423.8 309.8L425.2 310.8L426.6 311.9L427.9 312.9L429.3 314.0L430.5 315.0L431.7 315.9L432.9 316.8L433.9 317.6L434.8 318.4L435.5 318.9" stroke="#2fb52f" stroke-width="1.25" fill="none"/>
<path d="M235.5 318.9L236.2 318.3L237.1 317.6L238.1 316.7L239.3 315.7L240.5 314.7L241.7 313.8L243.1 312.7L244.4 311.7L245.8 310.6L247.2 309.6L248.5 308.6L249.8 307.7L251.2 306.7L252.5 305.8L253.8 304.9L255.1 303.9L256.4 303.0L257.8 302.1L259.1 301.2L260.4 300.3L261.7 299.4L263.0 298.5L264.4 297.6L265.7 296.7L267.0 295.8L268.3 294.9L269.6 294.0L271.0 293.1L272.3 292.1L273.6 291.1L274.9 289.9L276.3 288.7L277.6 287.4L279.0 286.0L280.3 284.5L281.6 282.8L282.9 280.9L284.3 279.0L285.6 277.0L286.9 275.2L288.2 273.5L289.5 272.0L290.8 270.4L292.1 268.8L293.5 267.0L294.9 264.9L296.4 262.7L297.8 260.4L299.3 258.1L300.8 255.8L302.3 253.6L303.8 251.3L305.4 249.0L306.9 246.8L308.5 244.9L310.1 243.2L311.6 241.6L313.2 240.2L314.7 238.9L316.3 237.9L317.8 237.1L319.4 236.5L320.9 236.1L322.5 235.8L324.0 235.6L325.6 235.7L327.3 235.9L328.9 236.3L330.4 236.6L331.7 236.9L332.7 237.0L333.5 237.1L334.2 237.2L334.8 237.3L335.5 237.3L336.2 237.3L336.8 237.2L337.5 237.1L338.3 237.0L339.3 236.9L340.6 236.6L342.1 236.3L343.7 235.9L345.4 235.7L347.0 235.6L348.5 235.8L350.1 236.1L351.6 236.5L353.2 237.1L354.7 237.9L356.3 238.9L357.8 240.2L359.4 241.6L360.9 243.2L362.5 244.9L364.1 246.8L365.6 249.0L367.2 251.3L368.7 253.6L370.2 255.8L371.7 258.1L373.2 260.4L374.6 262.7L376.1 264.9L377.5 267.0L378.9 268.8L380.2 270.4L381.5 272.0L382.8 273.5L384.1 275.2L385.4 277.0L386.7 279.0L388.1 280.9L389.4 282.8L390.7 284.5L392.0 286.0L393.4 287.4L394.7 288.7L396.1 289.9L397.4 291.1L398.7 292.1L400.0 293.1L401.4 294.0L402.7 294.9L404.0 295.8L405.3 296.7L406.6 297.6L408.0 298.5L409.3 299.4L410.6 300.3L411.9 301.2L413.2 302.1L414.6 303.0L415.9 303.9L417.2 304.9L418.5 305.8L419.8 306.7L421.2 307.7L422.5 308.6L423.8 309.6L425.2 310.6L426.6 311.7L427.9 312.7L429.3 313.8L430.5 314.7L431.7 315.7L432.9 316.7L433.9 317.6L434.8 318.3L435.5 318.9" stroke="#171796" stroke-width="1.25" fill="none"/>
<line x1="12.2" y1="426.6" x2="221.7" y2="426.6" stroke="#c8c8c8" stroke-width="0.9"/>
<line x1="17.20" y1="338.2" x2="17.20" y2="428.1" stroke="#555" stroke-width="1.30"/>
<line x1="15.7" y1="407.2" x2="18.7" y2="407.2" stroke="#555" stroke-width="0.8"/>
<text x="8.7" y="409.6" class="tl" textLength="7.5" lengthAdjust="spacingAndGlyphs">0.1</text>
<line x1="15.7" y1="387.8" x2="18.7" y2="387.8" stroke="#555" stroke-width="0.8"/>
<text x="8.7" y="390.2" class="tl" textLength="7.5" lengthAdjust="spacingAndGlyphs">0.2</text>
<line x1="15.7" y1="368.4" x2="18.7" y2="368.4" stroke="#555" stroke-width="0.8"/>
<text x="8.7" y="370.8" class="tl" textLength="7.5" lengthAdjust="spacingAndGlyphs">0.3</text>
<line x1="15.7" y1="349.0" x2="18.7" y2="349.0" stroke="#555" stroke-width="0.8"/>
<text x="8.7" y="351.4" class="tl" textLength="7.5" lengthAdjust="spacingAndGlyphs">0.4</text>
<line x1="50.5" y1="425.4" x2="50.5" y2="427.4" stroke="#bbb" stroke-width="0.7"/>
<line x1="83.9" y1="425.4" x2="83.9" y2="427.4" stroke="#bbb" stroke-width="0.7"/>
<line x1="117.2" y1="425.4" x2="117.2" y2="427.4" stroke="#bbb" stroke-width="0.7"/>
<line x1="150.5" y1="425.4" x2="150.5" y2="427.4" stroke="#bbb" stroke-width="0.7"/>
<line x1="183.9" y1="425.4" x2="183.9" y2="427.4" stroke="#bbb" stroke-width="0.7"/>
<line x1="217.2" y1="425.4" x2="217.2" y2="427.4" stroke="#bbb" stroke-width="0.7"/>
<text x="17.2" y="435.4" class="xl" text-anchor="middle">0</text>
<text x="50.5" y="431.9" class="xl" text-anchor="middle"><tspan class="pi">π</tspan></text>
<line x1="48.7" y1="433.3" x2="52.3" y2="433.3" stroke="#3a3a3a" stroke-width="0.6"/>
<text x="50.5" y="439.4" class="xl" text-anchor="middle">3</text>
<text x="83.9" y="431.9" class="xl" text-anchor="middle">2 <tspan class="pi">π</tspan></text>
<line x1="80.2" y1="433.3" x2="87.6" y2="433.3" stroke="#3a3a3a" stroke-width="0.6"/>
<text x="83.9" y="439.4" class="xl" text-anchor="middle">3</text>
<text x="150.5" y="431.9" class="xl" text-anchor="middle">4 <tspan class="pi">π</tspan></text>
<line x1="146.8" y1="433.3" x2="154.2" y2="433.3" stroke="#3a3a3a" stroke-width="0.6"/>
<text x="150.5" y="439.4" class="xl" text-anchor="middle">3</text>
<text x="183.9" y="431.9" class="xl" text-anchor="middle">5 <tspan class="pi">π</tspan></text>
<line x1="180.2" y1="433.3" x2="187.6" y2="433.3" stroke="#3a3a3a" stroke-width="0.6"/>
<text x="183.9" y="439.4" class="xl" text-anchor="middle">3</text>
<text x="117.2" y="434.9" class="xl" text-anchor="middle"><tspan class="pi">π</tspan></text>
<text x="217.2" y="434.9" class="xl" text-anchor="middle">2 <tspan class="pi">π</tspan></text>
<text x="225.5" y="428.6" class="phi" text-anchor="middle">ϕ</text>
<text x="17.2" y="335.6" class="pl" text-anchor="middle">P</text>
<text x="21.1" y="340.3" class="lb">(g)</text>
<path d="M17.2 426.6L18.6 426.5L20.5 426.4L22.7 426.2L25.0 426.1L27.2 426.0L29.2 426.1L31.2 426.2L33.2 426.4L35.2 426.5L37.2 426.6L39.2 426.5L41.2 426.4L43.2 426.2L45.2 426.1L47.2 426.0L49.2 426.1L51.3 426.2L53.4 426.4L55.4 426.6L57.2 426.6L58.8 426.5L60.3 426.4L61.7 426.2L63.0 426.0L64.2 425.8L65.3 425.6L66.4 425.4L67.3 425.2L68.3 425.1L69.2 425.0L70.1 425.2L71.0 425.4L71.9 425.7L72.7 425.9L73.7 426.0L74.7 426.0L75.9 425.8L77.0 425.6L78.1 425.3L79.2 425.0L80.2 424.7L81.3 424.2L82.3 423.7L83.2 423.3L84.1 423.1L84.8 423.2L85.5 423.5L86.0 423.9L86.6 424.3L87.2 424.7L87.8 425.1L88.4 425.5L89.1 426.0L89.7 426.2L90.4 426.2L91.1 425.9L91.8 425.3L92.6 424.5L93.4 423.6L94.2 422.7L95.1 421.7L96.2 420.5L97.2 419.3L98.2 418.3L99.0 417.7L99.6 417.5L100.1 417.6L100.5 417.9L100.8 418.4L101.2 418.8L101.6 419.4L102.0 420.1L102.4 420.8L102.8 421.6L103.2 422.3L103.7 423.2L104.2 424.3L104.8 425.4L105.3 426.1L105.8 426.2L106.2 425.7L106.6 424.7L107.0 423.3L107.3 421.7L107.7 419.8L108.1 417.8L108.5 415.6L108.9 413.2L109.3 410.4L109.7 407.2L110.1 403.5L110.5 399.3L110.9 394.8L111.3 390.3L111.7 385.9L112.1 381.5L112.4 377.0L112.8 372.6L113.1 368.4L113.5 364.5L113.8 360.9L114.2 357.4L114.5 354.3L114.8 351.4L115.2 349.0L115.6 347.0L116.0 345.3L116.4 343.9L116.8 343.1L117.2 342.8L117.6 343.1L118.0 343.9L118.4 345.3L118.8 347.0L119.2 349.0L119.6 351.4L119.9 354.3L120.2 357.4L120.6 360.9L120.9 364.5L121.3 368.4L121.6 372.6L122.0 377.0L122.3 381.5L122.7 385.9L123.1 390.3L123.5 394.8L123.9 399.3L124.3 403.5L124.7 407.2L125.1 410.4L125.5 413.2L125.9 415.6L126.3 417.8L126.7 419.8L127.1 421.7L127.4 423.3L127.8 424.7L128.2 425.7L128.6 426.2L129.1 426.1L129.6 425.4L130.2 424.3L130.7 423.2L131.2 422.3L131.6 421.6L132.0 420.8L132.4 420.1L132.8 419.4L133.2 418.8L133.6 418.4L133.9 417.9L134.3 417.6L134.8 417.5L135.4 417.7L136.2 418.3L137.2 419.3L138.2 420.5L139.3 421.7L140.2 422.7L141.0 423.6L141.8 424.5L142.6 425.3L143.3 425.9L144.0 426.2L144.7 426.2L145.3 426.0L146.0 425.5L146.6 425.1L147.2 424.7L147.8 424.3L148.4 423.9L148.9 423.5L149.6 423.2L150.3 423.1L151.2 423.3L152.1 423.7L153.1 424.2L154.2 424.7L155.2 425.0L156.3 425.3L157.4 425.6L158.5 425.8L159.7 426.0L160.7 426.0L161.7 425.9L162.5 425.7L163.4 425.4L164.3 425.2L165.2 425.0L166.1 425.1L167.1 425.2L168.0 425.4L169.1 425.6L170.2 425.8L171.4 426.0L172.7 426.2L174.1 426.4L175.6 426.5L177.2 426.6L179.0 426.6L181.0 426.4L183.1 426.2L185.2 426.1L187.2 426.0L189.2 426.1L191.2 426.2L193.2 426.4L195.2 426.5L197.2 426.6L199.2 426.5L201.2 426.4L203.2 426.2L205.2 426.1L207.2 426.0L209.4 426.1L211.7 426.2L213.9 426.4L215.8 426.5L217.2 426.6" stroke="#27aeb6" stroke-width="1.3" fill="none" stroke-dasharray="6.8 5.2"/>
<path d="M17.2 426.6L18.3 426.0L19.8 425.1L21.6 424.0L23.5 423.0L25.2 421.9L26.7 421.1L28.2 420.2L29.7 419.3L31.4 418.3L33.2 417.1L35.4 415.5L37.7 413.7L40.3 411.8L42.7 409.9L45.1 408.2L47.4 406.6L49.6 405.0L51.8 403.5L53.8 402.2L55.6 401.0L57.1 400.0L58.3 399.2L59.4 398.5L60.5 397.8L61.6 397.1L62.7 396.4L63.8 395.6L65.0 394.9L66.2 394.1L67.5 393.2L69.1 392.2L70.8 391.2L72.7 390.0L74.4 388.9L76.0 387.8L77.3 386.8L78.4 385.9L79.4 385.0L80.5 383.9L81.8 382.6L83.4 380.8L85.1 378.7L87.0 376.5L88.8 374.3L90.6 372.1L92.3 370.0L93.9 367.8L95.6 365.7L97.1 363.7L98.6 361.8L99.9 360.1L101.2 358.6L102.4 357.2L103.5 355.8L104.7 354.4L105.9 352.9L107.0 351.4L108.1 349.9L109.3 348.5L110.5 347.3L111.8 346.0L113.1 344.8L114.5 343.8L115.8 343.1L117.2 342.8L118.6 343.1L119.9 343.8L121.3 344.8L122.6 346.0L123.9 347.3L125.1 348.5L126.3 349.9L127.4 351.4L128.5 352.9L129.7 354.4L130.9 355.8L132.0 357.2L133.2 358.6L134.5 360.1L135.8 361.8L137.3 363.7L138.8 365.7L140.5 367.8L142.1 370.0L143.8 372.1L145.6 374.3L147.4 376.5L149.3 378.7L151.0 380.8L152.6 382.6L153.9 383.9L155.0 385.0L156.0 385.9L157.1 386.8L158.4 387.8L160.0 388.9L161.7 390.0L163.6 391.2L165.3 392.2L166.9 393.2L168.2 394.1L169.4 394.9L170.6 395.6L171.7 396.4L172.8 397.1L173.9 397.8L175.0 398.5L176.1 399.2L177.3 400.0L178.8 401.0L180.6 402.2L182.6 403.5L184.8 405.0L187.0 406.6L189.3 408.2L191.7 409.9L194.1 411.8L196.7 413.7L199.0 415.5L201.2 417.1L203.0 418.3L204.7 419.3L206.2 420.2L207.7 421.1L209.2 421.9L210.9 423.0L212.8 424.0L214.6 425.1L216.1 426.0L217.2 426.6" stroke="#c42424" stroke-width="1.3" fill="none" stroke-dasharray="11 4.5 1.6 4.5"/>
<path d="M17.2 426.6L18.0 426.1L19.2 425.3L20.5 424.4L21.9 423.5L23.2 422.7L24.4 422.1L25.6 421.4L26.8 420.9L28.0 420.3L29.2 419.8L30.5 419.3L31.8 418.8L33.1 418.4L34.5 418.0L35.8 417.7L37.1 417.5L38.4 417.4L39.8 417.4L41.1 417.3L42.4 417.1L43.7 416.8L45.0 416.5L46.4 416.2L47.7 415.7L49.0 415.2L50.3 414.5L51.6 413.7L53.0 412.9L54.3 411.9L55.6 410.9L57.0 409.7L58.4 408.5L59.7 407.2L61.1 405.8L62.3 404.3L63.4 402.7L64.4 401.0L65.4 399.2L66.3 397.4L67.2 395.6L68.1 393.6L69.1 391.6L70.0 389.5L70.8 387.6L71.6 385.9L72.3 384.6L72.8 383.7L73.3 382.9L74.0 381.8L74.8 380.2L75.9 378.0L77.2 375.2L78.6 372.2L80.0 369.2L81.4 366.5L82.7 364.0L84.0 361.5L85.4 359.2L86.7 357.0L88.0 355.2L89.3 353.7L90.6 352.5L92.0 351.5L93.3 350.7L94.6 350.0L96.0 349.4L97.4 348.9L98.8 348.6L100.1 348.4L101.3 348.2L102.2 348.2L103.0 348.3L103.7 348.5L104.4 348.5L105.2 348.4L106.2 348.1L107.3 347.5L108.4 346.9L109.5 346.3L110.5 345.7L111.5 345.2L112.5 344.7L113.4 344.2L114.3 343.7L115.0 343.4L115.6 343.1L116.0 343.0L116.4 342.9L116.8 342.8L117.2 342.8L117.6 342.8L118.0 342.9L118.4 343.0L118.8 343.1L119.4 343.4L120.1 343.7L121.0 344.2L121.9 344.7L122.9 345.2L123.9 345.7L124.9 346.3L126.0 346.9L127.1 347.5L128.2 348.1L129.2 348.4L130.0 348.5L130.7 348.5L131.4 348.3L132.2 348.2L133.1 348.2L134.3 348.4L135.6 348.6L137.0 348.9L138.4 349.4L139.8 350.0L141.1 350.7L142.4 351.5L143.8 352.5L145.1 353.7L146.4 355.2L147.7 357.0L149.0 359.2L150.4 361.5L151.7 364.0L153.0 366.5L154.4 369.2L155.8 372.2L157.2 375.2L158.5 378.0L159.6 380.2L160.4 381.8L161.1 382.9L161.6 383.7L162.1 384.6L162.8 385.9L163.6 387.6L164.4 389.5L165.3 391.6L166.3 393.6L167.2 395.6L168.1 397.4L169.0 399.2L170.0 401.0L171.0 402.7L172.1 404.3L173.3 405.8L174.7 407.2L176.0 408.5L177.4 409.7L178.8 410.9L180.1 411.9L181.4 412.9L182.8 413.7L184.1 414.5L185.4 415.2L186.7 415.7L188.0 416.2L189.4 416.5L190.7 416.8L192.0 417.1L193.3 417.3L194.6 417.4L196.0 417.4L197.3 417.5L198.6 417.7L199.9 418.0L201.3 418.4L202.6 418.8L203.9 419.3L205.2 419.8L206.4 420.3L207.6 420.9L208.8 421.4L210.0 422.1L211.2 422.7L212.5 423.5L213.9 424.4L215.2 425.3L216.4 426.1L217.2 426.6" stroke="#2fb52f" stroke-width="1.25" fill="none"/>
<path d="M17.2 426.6L18.0 426.0L19.2 425.2L20.5 424.3L21.9 423.4L23.2 422.5L24.4 421.8L25.6 421.1L26.8 420.3L28.0 419.7L29.2 419.0L30.5 418.4L31.8 417.9L33.1 417.3L34.5 416.8L35.8 416.3L37.1 415.9L38.4 415.5L39.8 415.1L41.1 414.7L42.4 414.4L43.7 414.0L45.0 413.7L46.4 413.4L47.7 413.1L49.0 412.6L50.3 412.1L51.6 411.5L53.0 410.9L54.3 410.1L55.6 409.1L56.9 408.1L58.3 406.9L59.6 405.5L61.0 404.0L62.3 402.4L63.6 400.4L65.0 398.2L66.3 395.9L67.7 393.5L68.9 391.3L70.0 389.3L71.1 387.3L72.1 385.4L73.2 383.4L74.4 381.2L75.7 378.8L77.1 376.2L78.6 373.5L80.0 370.9L81.4 368.4L82.7 366.1L84.1 363.8L85.4 361.6L86.7 359.6L88.0 357.7L89.3 356.1L90.6 354.6L92.0 353.2L93.3 352.1L94.6 351.1L96.0 350.4L97.4 349.9L98.8 349.6L100.1 349.4L101.3 349.2L102.2 349.1L103.0 349.1L103.7 349.2L104.4 349.2L105.2 349.0L106.2 348.6L107.3 347.9L108.4 347.2L109.5 346.5L110.5 345.9L111.5 345.3L112.5 344.8L113.4 344.2L114.3 343.7L115.0 343.4L115.6 343.1L116.0 342.9L116.4 342.8L116.8 342.8L117.2 342.8L117.6 342.8L118.0 342.8L118.4 342.9L118.8 343.1L119.4 343.4L120.1 343.7L121.0 344.2L121.9 344.8L122.9 345.3L123.9 345.9L124.9 346.5L126.0 347.2L127.1 347.9L128.2 348.6L129.2 349.0L130.0 349.2L130.7 349.2L131.4 349.1L132.2 349.1L133.1 349.2L134.3 349.4L135.6 349.6L137.0 349.9L138.4 350.4L139.8 351.1L141.1 352.1L142.4 353.2L143.8 354.6L145.1 356.1L146.4 357.7L147.7 359.6L149.0 361.6L150.3 363.8L151.7 366.1L153.0 368.4L154.4 370.9L155.8 373.5L157.3 376.2L158.7 378.8L160.0 381.2L161.2 383.4L162.3 385.4L163.3 387.3L164.4 389.3L165.5 391.3L166.7 393.5L168.1 395.9L169.4 398.2L170.8 400.4L172.1 402.4L173.4 404.0L174.8 405.5L176.1 406.9L177.5 408.1L178.8 409.1L180.1 410.1L181.4 410.9L182.8 411.5L184.1 412.1L185.4 412.6L186.7 413.1L188.0 413.4L189.4 413.7L190.7 414.0L192.0 414.4L193.3 414.7L194.6 415.1L196.0 415.5L197.3 415.9L198.6 416.3L199.9 416.8L201.3 417.3L202.6 417.9L203.9 418.4L205.2 419.0L206.4 419.7L207.6 420.3L208.8 421.1L210.0 421.8L211.2 422.5L212.5 423.4L213.9 424.3L215.2 425.2L216.4 426.0L217.2 426.6" stroke="#171796" stroke-width="1.25" fill="none"/>
<line x1="231.5" y1="426.7" x2="439.6" y2="426.7" stroke="#c8c8c8" stroke-width="0.9"/>
<line x1="236.50" y1="338.2" x2="236.50" y2="428.2" stroke="#555" stroke-width="1.30"/>
<line x1="235.0" y1="407.0" x2="238.0" y2="407.0" stroke="#555" stroke-width="0.8"/>
<text x="228.0" y="409.4" class="tl" textLength="7.5" lengthAdjust="spacingAndGlyphs">0.1</text>
<line x1="235.0" y1="387.3" x2="238.0" y2="387.3" stroke="#555" stroke-width="0.8"/>
<text x="228.0" y="389.6" class="tl" textLength="7.5" lengthAdjust="spacingAndGlyphs">0.2</text>
<line x1="235.0" y1="367.6" x2="238.0" y2="367.6" stroke="#555" stroke-width="0.8"/>
<text x="228.0" y="370.0" class="tl" textLength="7.5" lengthAdjust="spacingAndGlyphs">0.3</text>
<line x1="235.0" y1="347.9" x2="238.0" y2="347.9" stroke="#555" stroke-width="0.8"/>
<text x="228.0" y="350.2" class="tl" textLength="7.5" lengthAdjust="spacingAndGlyphs">0.4</text>
<line x1="269.6" y1="425.5" x2="269.6" y2="427.5" stroke="#bbb" stroke-width="0.7"/>
<line x1="302.7" y1="425.5" x2="302.7" y2="427.5" stroke="#bbb" stroke-width="0.7"/>
<line x1="335.8" y1="425.5" x2="335.8" y2="427.5" stroke="#bbb" stroke-width="0.7"/>
<line x1="368.9" y1="425.5" x2="368.9" y2="427.5" stroke="#bbb" stroke-width="0.7"/>
<line x1="402.0" y1="425.5" x2="402.0" y2="427.5" stroke="#bbb" stroke-width="0.7"/>
<line x1="435.1" y1="425.5" x2="435.1" y2="427.5" stroke="#bbb" stroke-width="0.7"/>
<text x="236.5" y="435.5" class="xl" text-anchor="middle">0</text>
<text x="269.6" y="432.0" class="xl" text-anchor="middle"><tspan class="pi">π</tspan></text>
<line x1="267.8" y1="433.4" x2="271.4" y2="433.4" stroke="#3a3a3a" stroke-width="0.6"/>
<text x="269.6" y="439.5" class="xl" text-anchor="middle">3</text>
<text x="302.7" y="432.0" class="xl" text-anchor="middle">2 <tspan class="pi">π</tspan></text>
<line x1="299.0" y1="433.4" x2="306.4" y2="433.4" stroke="#3a3a3a" stroke-width="0.6"/>
<text x="302.7" y="439.5" class="xl" text-anchor="middle">3</text>
<text x="368.9" y="432.0" class="xl" text-anchor="middle">4 <tspan class="pi">π</tspan></text>
<line x1="365.2" y1="433.4" x2="372.6" y2="433.4" stroke="#3a3a3a" stroke-width="0.6"/>
<text x="368.9" y="439.5" class="xl" text-anchor="middle">3</text>
<text x="402.0" y="432.0" class="xl" text-anchor="middle">5 <tspan class="pi">π</tspan></text>
<line x1="398.3" y1="433.4" x2="405.7" y2="433.4" stroke="#3a3a3a" stroke-width="0.6"/>
<text x="402.0" y="439.5" class="xl" text-anchor="middle">3</text>
<text x="335.8" y="435.0" class="xl" text-anchor="middle"><tspan class="pi">π</tspan></text>
<text x="435.1" y="435.0" class="xl" text-anchor="middle">2 <tspan class="pi">π</tspan></text>
<text x="443.4" y="428.7" class="phi" text-anchor="middle">ϕ</text>
<text x="236.5" y="336.0" class="pl" text-anchor="middle">P</text>
<text x="239.8" y="340.3" class="lb">(h)</text>
<path d="M236.5 426.7L240.9 426.7L247.2 426.6L254.4 426.5L261.1 426.4L266.3 426.3L269.5 426.1L271.7 425.9L273.2 425.7L274.6 425.6L276.2 425.5L278.2 425.7L280.2 426.0L282.2 426.3L284.2 426.6L286.1 426.7L288.2 426.6L290.4 426.3L292.5 426.0L294.4 425.7L296.1 425.5L297.4 425.5L298.4 425.5L299.3 425.5L300.1 425.6L301.0 425.7L302.1 425.9L303.1 426.1L304.1 426.4L305.1 426.6L306.0 426.7L306.9 426.7L307.7 426.5L308.4 426.3L309.2 426.0L310.0 425.7L310.8 425.3L311.6 424.7L312.4 424.1L313.2 423.6L314.0 423.4L314.6 423.4L315.2 423.7L315.8 424.2L316.4 424.5L316.9 424.7L317.5 424.8L318.1 424.8L318.7 424.7L319.3 424.4L319.9 423.9L320.6 423.0L321.3 421.6L321.9 420.2L322.6 419.0L323.2 418.4L323.7 418.7L324.1 419.5L324.6 420.6L325.0 421.8L325.4 422.8L325.8 423.7L326.2 424.9L326.6 425.9L327.0 426.6L327.5 426.5L328.0 425.6L328.5 424.0L329.1 422.0L329.6 419.8L330.0 417.8L330.4 416.3L330.6 415.1L330.8 413.6L331.0 411.4L331.2 408.0L331.6 402.8L332.0 396.2L332.4 388.9L332.8 381.8L333.2 375.5L333.6 369.9L333.9 364.7L334.2 359.8L334.5 355.5L334.8 351.8L335.0 348.8L335.2 346.4L335.4 344.5L335.6 343.4L335.8 343.0L336.0 343.4L336.2 344.5L336.4 346.4L336.6 348.8L336.8 351.8L337.1 355.5L337.4 359.8L337.7 364.7L338.0 369.9L338.4 375.5L338.8 381.8L339.2 388.9L339.6 396.2L340.0 402.8L340.4 408.0L340.6 411.4L340.8 413.6L341.0 415.1L341.2 416.3L341.6 417.8L342.0 419.8L342.5 422.0L343.1 424.0L343.6 425.6L344.1 426.5L344.6 426.6L345.0 425.9L345.4 424.9L345.8 423.7L346.2 422.8L346.6 421.8L347.0 420.6L347.5 419.5L347.9 418.7L348.4 418.4L349.0 419.0L349.7 420.2L350.3 421.6L351.0 423.0L351.7 423.9L352.3 424.4L352.9 424.7L353.5 424.8L354.1 424.8L354.7 424.7L355.2 424.5L355.8 424.2L356.4 423.7L357.0 423.4L357.6 423.4L358.4 423.6L359.2 424.1L360.0 424.7L360.8 425.3L361.6 425.7L362.4 426.0L363.2 426.3L363.9 426.5L364.7 426.7L365.6 426.7L366.5 426.6L367.5 426.4L368.5 426.1L369.5 425.9L370.6 425.7L371.5 425.6L372.3 425.5L373.2 425.5L374.2 425.5L375.5 425.5L377.2 425.7L379.1 426.0L381.2 426.3L383.4 426.6L385.4 426.7L387.4 426.6L389.4 426.3L391.4 426.0L393.4 425.7L395.4 425.5L397.0 425.6L398.4 425.7L399.9 425.9L402.1 426.1L405.3 426.3L410.5 426.4L417.2 426.5L424.4 426.6L430.7 426.7L435.1 426.7" stroke="#27aeb6" stroke-width="1.3" fill="none" stroke-dasharray="6.8 5.2"/>
<path d="M236.5 426.3L237.2 426.1L238.1 425.7L239.2 425.3L240.3 424.8L241.5 424.3L242.6 423.9L243.8 423.3L245.0 422.8L246.2 422.2L247.2 421.6L248.0 420.9L248.7 420.2L249.3 419.4L250.1 418.5L251.2 417.6L252.7 416.6L254.6 415.5L256.7 414.4L258.7 413.3L260.4 412.3L261.8 411.6L263.1 410.9L264.2 410.3L265.5 409.8L267.0 409.2L268.9 408.5L271.1 407.7L273.5 407.0L275.7 406.4L277.6 405.8L279.2 405.4L280.6 405.1L281.8 404.9L283.0 404.7L284.2 404.4L285.3 404.2L286.4 403.9L287.5 403.6L288.5 403.3L289.5 403.1L290.5 402.8L291.3 402.6L292.2 402.4L293.1 402.2L294.0 401.9L295.0 401.5L296.0 401.0L297.1 400.5L298.1 400.0L299.1 399.5L299.9 399.0L300.8 398.5L301.5 397.9L302.3 397.4L303.0 396.8L303.7 396.3L304.2 396.0L304.8 395.5L305.4 394.8L306.4 393.4L307.7 391.2L309.4 388.4L311.1 385.3L312.9 382.3L314.4 379.6L315.6 377.5L316.6 375.7L317.6 373.9L318.6 372.2L319.6 370.4L320.7 368.3L321.7 366.3L322.8 364.1L323.8 361.9L324.9 359.7L326.0 357.3L327.1 354.7L328.3 352.1L329.3 349.8L330.2 347.9L331.0 346.6L331.7 345.8L332.2 345.3L332.8 344.8L333.3 344.4L333.9 343.8L334.4 343.3L334.8 342.8L335.3 342.5L335.8 342.4L336.3 342.5L336.8 342.8L337.2 343.3L337.7 343.8L338.3 344.4L338.8 344.8L339.4 345.3L339.9 345.8L340.6 346.6L341.4 347.9L342.3 349.8L343.3 352.1L344.5 354.7L345.6 357.3L346.7 359.7L347.8 361.9L348.8 364.1L349.9 366.3L350.9 368.3L352.0 370.4L353.0 372.2L354.0 373.9L355.0 375.7L356.0 377.5L357.2 379.6L358.7 382.3L360.5 385.3L362.2 388.4L363.9 391.2L365.2 393.4L366.2 394.8L366.8 395.5L367.4 396.0L367.9 396.3L368.6 396.8L369.3 397.4L370.1 397.9L370.8 398.5L371.7 399.0L372.5 399.5L373.5 400.0L374.5 400.5L375.6 401.0L376.6 401.5L377.6 401.9L378.5 402.2L379.4 402.4L380.3 402.6L381.1 402.8L382.1 403.1L383.1 403.3L384.1 403.6L385.2 403.9L386.3 404.2L387.4 404.4L388.6 404.7L389.8 404.9L391.0 405.1L392.4 405.4L394.0 405.8L395.9 406.4L398.1 407.0L400.5 407.7L402.7 408.5L404.6 409.2L406.1 409.8L407.4 410.3L408.5 410.9L409.8 411.6L411.2 412.3L412.9 413.3L414.9 414.4L417.0 415.5L418.9 416.6L420.4 417.6L421.5 418.5L422.3 419.4L422.9 420.2L423.6 420.9L424.4 421.6L425.4 422.2L426.6 422.8L427.8 423.3L429.0 423.9L430.1 424.3L431.3 424.8L432.4 425.3L433.5 425.7L434.4 426.1L435.1 426.3" stroke="#c42424" stroke-width="1.3" fill="none" stroke-dasharray="11 4.5 1.6 4.5"/>
<path d="M236.5 426.3L237.2 426.1L238.1 425.8L239.2 425.4L240.3 425.0L241.5 424.5L242.6 424.0L243.7 423.4L244.8 422.8L246.0 422.3L247.2 422.0L248.5 421.9L249.8 421.9L251.1 422.1L252.4 422.2L253.8 422.4L255.1 422.5L256.4 422.6L257.7 422.8L259.0 422.9L260.4 423.0L262.0 423.0L263.6 423.1L265.3 423.1L266.9 423.1L268.4 423.0L269.6 422.8L270.6 422.7L271.6 422.5L272.5 422.2L273.6 421.6L274.9 420.8L276.2 419.9L277.6 418.8L278.9 417.4L280.3 415.7L281.6 413.5L283.0 411.0L284.4 408.2L285.7 405.4L286.9 402.5L288.1 399.5L289.2 396.2L290.2 393.0L291.2 390.0L292.1 387.3L292.9 385.2L293.6 383.4L294.3 381.9L295.1 380.3L295.9 378.4L296.8 376.2L297.9 373.8L299.0 371.3L300.1 368.9L301.1 366.6L302.2 364.6L303.2 362.7L304.2 360.9L305.3 359.2L306.4 357.4L307.6 355.5L308.9 353.5L310.3 351.6L311.6 349.8L313.0 348.3L314.3 347.1L315.6 346.2L316.9 345.4L318.3 344.7L319.6 344.2L320.9 343.7L322.1 343.3L323.4 343.0L324.8 342.8L326.3 342.6L328.0 342.4L329.9 342.4L331.8 342.4L333.8 342.4L335.8 342.4L337.8 342.4L339.8 342.4L341.7 342.4L343.6 342.4L345.3 342.6L346.8 342.8L348.2 343.0L349.5 343.3L350.7 343.7L352.0 344.2L353.3 344.7L354.7 345.4L356.0 346.2L357.3 347.1L358.6 348.3L360.0 349.8L361.3 351.6L362.7 353.5L364.0 355.5L365.2 357.4L366.3 359.2L367.4 360.9L368.4 362.7L369.4 364.6L370.5 366.6L371.5 368.9L372.6 371.3L373.7 373.8L374.8 376.2L375.7 378.4L376.5 380.3L377.3 381.9L378.0 383.4L378.7 385.2L379.5 387.3L380.4 390.0L381.4 393.0L382.4 396.2L383.5 399.5L384.7 402.5L385.9 405.4L387.2 408.2L388.6 411.0L390.0 413.5L391.3 415.7L392.7 417.4L394.0 418.8L395.4 419.9L396.7 420.8L398.0 421.6L399.1 422.2L400.0 422.5L401.0 422.7L402.0 422.8L403.2 423.0L404.7 423.1L406.3 423.1L408.0 423.1L409.6 423.0L411.2 423.0L412.6 422.9L413.9 422.8L415.2 422.6L416.5 422.5L417.8 422.4L419.2 422.2L420.5 422.1L421.8 421.9L423.1 421.9L424.4 422.0L425.6 422.3L426.8 422.8L427.9 423.4L429.0 424.0L430.1 424.5L431.3 425.0L432.4 425.4L433.5 425.8L434.4 426.1L435.1 426.3" stroke="#2fb52f" stroke-width="1.25" fill="none"/>
<path d="M236.5 426.3L237.2 426.1L238.1 425.7L239.2 425.3L240.3 424.8L241.5 424.3L242.6 423.8L243.7 423.2L244.8 422.6L246.0 422.0L247.2 421.6L248.5 421.2L249.8 421.0L251.1 420.8L252.4 420.7L253.8 420.6L255.1 420.6L256.4 420.7L257.7 420.8L259.0 420.9L260.4 421.0L262.0 421.1L263.6 421.2L265.3 421.2L266.9 421.3L268.4 421.2L269.6 421.0L270.6 420.9L271.6 420.6L272.5 420.2L273.6 419.6L274.9 418.9L276.2 418.1L277.6 417.2L278.9 416.0L280.3 414.5L281.6 412.5L283.0 410.2L284.4 407.7L285.7 405.0L286.9 402.5L288.1 399.9L289.2 397.2L290.2 394.5L291.2 392.0L292.1 389.7L292.9 387.7L293.6 386.1L294.3 384.5L295.1 382.9L295.9 381.0L296.8 378.8L297.9 376.3L299.0 373.8L300.1 371.3L301.1 369.0L302.2 366.9L303.2 364.9L304.2 363.0L305.3 361.1L306.4 359.1L307.6 357.1L308.9 354.9L310.3 352.9L311.6 350.9L313.0 349.3L314.3 348.0L315.6 346.9L316.9 346.0L318.3 345.2L319.6 344.6L320.9 344.0L322.1 343.5L323.4 343.1L324.8 342.8L326.3 342.6L328.0 342.4L329.9 342.4L331.8 342.3L333.8 342.4L335.8 342.4L337.8 342.4L339.8 342.3L341.7 342.4L343.6 342.4L345.3 342.6L346.8 342.8L348.2 343.1L349.5 343.5L350.7 344.0L352.0 344.6L353.3 345.2L354.7 346.0L356.0 346.9L357.3 348.0L358.6 349.3L360.0 350.9L361.3 352.9L362.7 354.9L364.0 357.1L365.2 359.1L366.3 361.1L367.4 363.0L368.4 364.9L369.4 366.9L370.5 369.0L371.5 371.3L372.6 373.8L373.7 376.3L374.8 378.8L375.7 381.0L376.5 382.9L377.3 384.5L378.0 386.1L378.7 387.7L379.5 389.7L380.4 392.0L381.4 394.5L382.4 397.2L383.5 399.9L384.7 402.5L385.9 405.0L387.2 407.7L388.6 410.2L390.0 412.5L391.3 414.5L392.7 416.0L394.0 417.2L395.4 418.1L396.7 418.9L398.0 419.6L399.1 420.2L400.0 420.6L401.0 420.9L402.0 421.0L403.2 421.2L404.7 421.3L406.3 421.2L408.0 421.2L409.6 421.1L411.2 421.0L412.6 420.9L413.9 420.8L415.2 420.7L416.5 420.6L417.8 420.6L419.2 420.7L420.5 420.8L421.8 421.0L423.1 421.2L424.4 421.6L425.6 422.0L426.8 422.6L427.9 423.2L429.0 423.8L430.1 424.3L431.3 424.8L432.4 425.3L433.5 425.7L434.4 426.1L435.1 426.3" stroke="#171796" stroke-width="1.25" fill="none"/>
<line x1="12.3" y1="533.3" x2="222.8" y2="533.3" stroke="#c8c8c8" stroke-width="0.9"/>
<line x1="17.30" y1="444.3" x2="17.30" y2="534.8" stroke="#555" stroke-width="1.30"/>
<line x1="15.8" y1="513.8" x2="18.8" y2="513.8" stroke="#555" stroke-width="0.8"/>
<text x="8.8" y="516.1" class="tl" textLength="7.5" lengthAdjust="spacingAndGlyphs">0.1</text>
<line x1="15.8" y1="494.3" x2="18.8" y2="494.3" stroke="#555" stroke-width="0.8"/>
<text x="8.8" y="496.6" class="tl" textLength="7.5" lengthAdjust="spacingAndGlyphs">0.2</text>
<line x1="15.8" y1="474.8" x2="18.8" y2="474.8" stroke="#555" stroke-width="0.8"/>
<text x="8.8" y="477.1" class="tl" textLength="7.5" lengthAdjust="spacingAndGlyphs">0.3</text>
<line x1="15.8" y1="455.3" x2="18.8" y2="455.3" stroke="#555" stroke-width="0.8"/>
<text x="8.8" y="457.6" class="tl" textLength="7.5" lengthAdjust="spacingAndGlyphs">0.4</text>
<line x1="50.8" y1="532.1" x2="50.8" y2="534.1" stroke="#bbb" stroke-width="0.7"/>
<line x1="84.3" y1="532.1" x2="84.3" y2="534.1" stroke="#bbb" stroke-width="0.7"/>
<line x1="117.8" y1="532.1" x2="117.8" y2="534.1" stroke="#bbb" stroke-width="0.7"/>
<line x1="151.3" y1="532.1" x2="151.3" y2="534.1" stroke="#bbb" stroke-width="0.7"/>
<line x1="184.8" y1="532.1" x2="184.8" y2="534.1" stroke="#bbb" stroke-width="0.7"/>
<line x1="218.3" y1="532.1" x2="218.3" y2="534.1" stroke="#bbb" stroke-width="0.7"/>
<text x="17.3" y="542.1" class="xl" text-anchor="middle">0</text>
<text x="50.8" y="538.6" class="xl" text-anchor="middle"><tspan class="pi">π</tspan></text>
<line x1="49.0" y1="540.0" x2="52.6" y2="540.0" stroke="#3a3a3a" stroke-width="0.6"/>
<text x="50.8" y="546.1" class="xl" text-anchor="middle">3</text>
<text x="84.3" y="538.6" class="xl" text-anchor="middle">2 <tspan class="pi">π</tspan></text>
<line x1="80.6" y1="540.0" x2="88.0" y2="540.0" stroke="#3a3a3a" stroke-width="0.6"/>
<text x="84.3" y="546.1" class="xl" text-anchor="middle">3</text>
<text x="151.3" y="538.6" class="xl" text-anchor="middle">4 <tspan class="pi">π</tspan></text>
<line x1="147.6" y1="540.0" x2="155.0" y2="540.0" stroke="#3a3a3a" stroke-width="0.6"/>
<text x="151.3" y="546.1" class="xl" text-anchor="middle">3</text>
<text x="184.8" y="538.6" class="xl" text-anchor="middle">5 <tspan class="pi">π</tspan></text>
<line x1="181.1" y1="540.0" x2="188.5" y2="540.0" stroke="#3a3a3a" stroke-width="0.6"/>
<text x="184.8" y="546.1" class="xl" text-anchor="middle">3</text>
<text x="117.8" y="541.6" class="xl" text-anchor="middle"><tspan class="pi">π</tspan></text>
<text x="218.3" y="541.6" class="xl" text-anchor="middle">2 <tspan class="pi">π</tspan></text>
<text x="226.6" y="535.3" class="phi" text-anchor="middle">ϕ</text>
<text x="17.3" y="442.0" class="pl" text-anchor="middle">P</text>
<text x="21.8" y="446.9" class="lb">(i)</text>
<path d="M17.3 533.3L18.7 533.2L20.6 533.1L22.8 533.0L25.2 532.9L27.4 532.9L29.4 533.0L31.4 533.1L33.4 533.2L35.4 533.3L37.4 533.3L39.4 533.2L41.4 533.1L43.4 532.9L45.4 532.8L47.5 532.7L49.5 532.8L51.5 532.9L53.5 533.1L55.5 533.3L57.5 533.3L59.5 533.2L61.5 533.0L63.5 532.8L65.5 532.6L67.5 532.5L69.6 532.6L71.6 532.8L73.6 533.0L75.6 533.2L77.6 533.3L79.6 533.2L81.6 533.0L83.6 532.7L85.6 532.4L87.6 532.3L89.7 532.4L91.9 532.6L94.0 532.8L96.0 532.9L97.7 532.9L99.0 532.6L100.1 532.2L101.1 531.7L101.9 531.2L102.7 531.0L103.6 531.0L104.4 531.3L105.2 531.7L105.8 531.9L106.4 531.9L106.9 531.7L107.3 531.3L107.6 530.7L107.9 530.1L108.3 529.4L108.6 528.4L108.9 527.1L109.3 525.9L109.6 525.0L110.0 524.7L110.3 525.4L110.7 526.8L111.0 528.6L111.4 530.2L111.8 531.3L112.1 532.2L112.5 533.0L112.9 533.4L113.2 533.2L113.5 531.9L113.7 529.6L113.9 526.3L114.0 522.3L114.2 517.7L114.4 512.4L114.7 506.3L115.0 499.1L115.4 491.5L115.7 484.0L116.1 477.1L116.4 470.2L116.8 462.7L117.1 455.9L117.5 451.0L117.8 449.1L118.1 451.0L118.5 455.9L118.8 462.7L119.2 470.2L119.5 477.1L119.9 484.0L120.2 491.5L120.6 499.1L120.9 506.3L121.2 512.4L121.4 517.7L121.6 522.3L121.7 526.3L121.9 529.6L122.1 531.9L122.4 533.2L122.7 533.4L123.1 533.0L123.5 532.2L123.8 531.3L124.2 530.2L124.6 528.6L124.9 526.8L125.3 525.4L125.6 524.7L126.0 525.0L126.3 525.9L126.7 527.1L127.0 528.4L127.3 529.4L127.7 530.1L128.0 530.7L128.3 531.3L128.7 531.7L129.2 531.9L129.8 531.9L130.4 531.7L131.2 531.3L132.0 531.0L132.9 531.0L133.7 531.2L134.5 531.7L135.5 532.2L136.6 532.6L137.9 532.9L139.6 532.9L141.6 532.8L143.7 532.6L145.9 532.4L148.0 532.3L150.0 532.4L152.0 532.7L154.0 533.0L156.0 533.2L158.0 533.3L160.0 533.2L162.0 533.0L164.0 532.8L166.0 532.6L168.1 532.5L170.1 532.6L172.1 532.8L174.1 533.0L176.1 533.2L178.1 533.3L180.1 533.3L182.1 533.1L184.1 532.9L186.1 532.8L188.2 532.7L190.2 532.8L192.2 532.9L194.2 533.1L196.2 533.2L198.2 533.3L200.2 533.3L202.2 533.2L204.2 533.1L206.2 533.0L208.2 532.9L210.4 532.9L212.8 533.0L215.0 533.1L216.9 533.2L218.3 533.3" stroke="#27aeb6" stroke-width="1.3" fill="none" stroke-dasharray="6.8 5.2"/>
<path d="M17.3 532.9L18.0 532.8L19.0 532.7L20.1 532.6L21.3 532.4L22.3 532.1L23.3 531.8L24.3 531.3L25.3 530.8L26.2 530.2L26.9 529.8L27.5 529.4L27.9 529.2L28.2 528.9L28.7 528.6L29.5 528.0L30.6 527.3L32.1 526.3L33.7 525.3L35.3 524.3L36.8 523.5L38.1 522.9L39.3 522.5L40.4 522.1L41.6 521.7L42.8 521.4L44.1 521.1L45.4 520.9L46.8 520.8L48.1 520.7L49.4 520.6L50.6 520.6L51.8 520.6L53.0 520.7L54.3 520.7L55.5 520.8L56.8 520.9L58.1 521.0L59.4 521.2L60.7 521.3L61.9 521.4L63.1 521.5L64.3 521.7L65.5 521.8L66.6 521.9L67.5 522.0L68.4 522.0L69.2 522.1L69.9 522.1L70.6 522.0L71.4 522.0L72.2 521.9L73.0 521.8L73.9 521.7L74.7 521.6L75.6 521.4L76.4 521.3L77.3 521.1L78.2 521.0L79.1 520.7L80.0 520.2L81.1 519.6L82.2 518.7L83.4 517.7L84.5 516.7L85.5 515.8L86.5 514.8L87.4 513.9L88.2 512.9L89.0 511.9L89.8 510.9L90.5 509.8L91.1 508.8L91.8 507.7L92.4 506.6L93.1 505.4L93.8 504.2L94.5 503.0L95.2 501.7L95.9 500.3L96.7 498.6L97.5 496.5L98.4 494.2L99.3 491.7L100.1 489.4L100.7 487.5L101.2 486.2L101.4 485.3L101.7 484.6L102.0 483.7L102.4 482.2L103.2 479.9L104.1 477.1L105.1 474.0L106.0 471.1L106.7 468.8L107.3 467.1L107.7 465.8L108.0 464.8L108.4 463.8L108.8 462.7L109.2 461.4L109.6 460.2L110.1 458.9L110.6 457.6L111.1 456.5L111.6 455.4L112.1 454.4L112.7 453.4L113.3 452.6L113.8 451.8L114.3 451.1L114.8 450.6L115.3 450.1L115.8 449.8L116.2 449.4L116.6 449.2L116.9 449.1L117.2 449.1L117.5 449.1L117.8 449.1L118.1 449.1L118.4 449.1L118.7 449.1L119.0 449.2L119.4 449.4L119.8 449.8L120.3 450.1L120.8 450.6L121.3 451.1L121.8 451.8L122.3 452.6L122.9 453.4L123.5 454.4L124.0 455.4L124.5 456.5L125.0 457.6L125.5 458.9L126.0 460.2L126.4 461.4L126.8 462.7L127.2 463.8L127.6 464.8L127.9 465.8L128.3 467.1L128.9 468.8L129.6 471.1L130.5 474.0L131.5 477.1L132.4 479.9L133.2 482.2L133.6 483.7L133.9 484.6L134.2 485.3L134.4 486.2L134.9 487.5L135.5 489.4L136.3 491.7L137.2 494.2L138.1 496.5L138.9 498.6L139.7 500.3L140.4 501.7L141.1 503.0L141.8 504.2L142.5 505.4L143.2 506.6L143.8 507.7L144.5 508.8L145.1 509.8L145.8 510.9L146.6 511.9L147.4 512.9L148.2 513.9L149.1 514.8L150.1 515.8L151.1 516.7L152.2 517.7L153.4 518.7L154.5 519.6L155.6 520.2L156.5 520.7L157.4 521.0L158.3 521.1L159.2 521.3L160.0 521.4L160.9 521.6L161.7 521.7L162.6 521.8L163.4 521.9L164.2 522.0L165.0 522.0L165.7 522.1L166.4 522.1L167.2 522.0L168.1 522.0L169.0 521.9L170.1 521.8L171.3 521.7L172.5 521.5L173.7 521.4L174.9 521.3L176.2 521.2L177.5 521.0L178.8 520.9L180.1 520.8L181.3 520.7L182.6 520.7L183.8 520.6L185.0 520.6L186.2 520.6L187.5 520.7L188.8 520.8L190.2 520.9L191.5 521.1L192.8 521.4L194.0 521.7L195.2 522.1L196.3 522.5L197.5 522.9L198.8 523.5L200.3 524.3L201.9 525.3L203.5 526.3L205.0 527.3L206.1 528.0L206.9 528.6L207.4 528.9L207.7 529.2L208.1 529.4L208.7 529.8L209.4 530.2L210.3 530.8L211.3 531.3L212.3 531.8L213.3 532.1L214.3 532.4L215.5 532.6L216.6 532.7L217.6 532.8L218.3 532.9" stroke="#c42424" stroke-width="1.3" fill="none" stroke-dasharray="11 4.5 1.6 4.5"/>
<path d="M17.3 532.9L18.0 532.8L18.9 532.6L20.0 532.3L21.2 532.0L22.3 531.7L23.4 531.4L24.6 530.9L25.7 530.4L26.9 530.0L28.2 529.8L29.4 529.8L30.7 529.9L32.1 530.2L33.4 530.5L34.8 530.8L36.1 531.1L37.4 531.4L38.8 531.8L40.1 532.1L41.4 532.3L42.7 532.5L44.0 532.6L45.3 532.6L46.6 532.7L48.0 532.7L49.3 532.8L50.6 532.8L51.9 532.9L53.3 532.8L54.6 532.7L56.0 532.5L57.4 532.1L58.8 531.7L60.2 531.3L61.3 530.8L62.3 530.2L63.1 529.6L63.7 529.0L64.4 528.3L65.0 527.4L65.7 526.5L66.3 525.6L66.9 524.5L67.5 523.3L68.1 522.0L68.6 520.5L69.1 518.9L69.7 517.2L70.2 515.5L70.8 513.8L71.4 512.2L72.0 510.7L72.7 509.1L73.3 507.5L74.0 505.6L74.6 503.5L75.3 501.2L76.0 498.9L76.6 496.5L77.3 494.1L78.0 491.8L78.6 489.5L79.3 487.2L80.0 484.9L80.6 482.6L81.3 480.3L82.0 478.0L82.6 475.7L83.3 473.6L83.9 471.7L84.6 470.0L85.2 468.4L85.9 467.0L86.5 465.8L87.0 464.7L87.5 463.7L87.9 463.0L88.3 462.4L88.7 461.8L89.1 461.1L89.5 460.4L89.9 459.6L90.4 458.7L90.8 457.9L91.3 457.2L91.7 456.7L92.1 456.1L92.5 455.6L93.0 455.2L93.6 454.7L94.3 454.2L95.2 453.7L96.1 453.2L97.1 452.8L98.0 452.4L98.9 452.0L99.8 451.7L100.7 451.4L101.7 451.1L102.7 450.8L103.9 450.5L105.1 450.2L106.3 449.9L107.6 449.7L108.9 449.4L110.2 449.2L111.6 449.0L112.9 448.9L114.2 448.7L115.2 448.7L115.9 448.7L116.5 448.8L116.9 448.9L117.3 449.0L117.8 449.1L118.3 449.0L118.7 448.9L119.1 448.8L119.7 448.7L120.4 448.7L121.4 448.7L122.7 448.9L124.0 449.0L125.4 449.2L126.7 449.4L128.0 449.7L129.3 449.9L130.5 450.2L131.7 450.5L132.9 450.8L133.9 451.1L134.9 451.4L135.8 451.7L136.7 452.0L137.6 452.4L138.5 452.8L139.5 453.2L140.4 453.7L141.3 454.2L142.0 454.7L142.6 455.2L143.1 455.6L143.5 456.1L143.9 456.7L144.3 457.2L144.8 457.9L145.2 458.7L145.7 459.6L146.1 460.4L146.5 461.1L146.9 461.8L147.3 462.4L147.7 463.0L148.1 463.7L148.6 464.7L149.1 465.8L149.7 467.0L150.4 468.4L151.0 470.0L151.7 471.7L152.3 473.6L153.0 475.7L153.6 478.0L154.3 480.3L155.0 482.6L155.6 484.9L156.3 487.2L157.0 489.5L157.6 491.8L158.3 494.1L159.0 496.5L159.6 498.9L160.3 501.2L161.0 503.5L161.6 505.6L162.3 507.5L162.9 509.1L163.6 510.7L164.2 512.2L164.8 513.8L165.4 515.5L165.9 517.2L166.5 518.9L167.0 520.5L167.5 522.0L168.1 523.3L168.7 524.5L169.3 525.6L169.9 526.5L170.6 527.4L171.2 528.3L171.9 529.0L172.5 529.6L173.3 530.2L174.3 530.8L175.4 531.3L176.8 531.7L178.2 532.1L179.6 532.5L181.0 532.7L182.3 532.8L183.7 532.9L185.0 532.8L186.3 532.8L187.6 532.7L189.0 532.7L190.3 532.6L191.6 532.6L192.9 532.5L194.2 532.3L195.5 532.1L196.8 531.8L198.2 531.4L199.5 531.1L200.8 530.8L202.2 530.5L203.5 530.2L204.9 529.9L206.2 529.8L207.4 529.8L208.7 530.0L209.9 530.4L211.0 530.9L212.2 531.4L213.3 531.7L214.4 532.0L215.6 532.3L216.7 532.6L217.6 532.8L218.3 532.9" stroke="#2fb52f" stroke-width="1.25" fill="none"/>
<path d="M17.3 532.9L18.0 532.8L18.9 532.6L20.0 532.3L21.2 532.0L22.3 531.7L23.4 531.4L24.6 530.9L25.7 530.4L26.9 530.0L28.2 529.8L29.4 529.8L30.7 529.9L32.1 530.2L33.4 530.5L34.8 530.8L36.1 531.1L37.4 531.4L38.8 531.8L40.1 532.1L41.4 532.3L42.7 532.5L44.0 532.6L45.3 532.6L46.6 532.7L48.0 532.7L49.3 532.8L50.6 532.8L51.9 532.9L53.3 532.8L54.6 532.7L56.0 532.5L57.4 532.1L58.8 531.7L60.2 531.3L61.3 530.8L62.3 530.2L63.1 529.6L63.7 529.0L64.4 528.3L65.0 527.4L65.7 526.5L66.3 525.6L66.9 524.5L67.4 523.3L68.1 522.0L68.7 520.5L69.4 518.9L70.0 517.2L70.7 515.5L71.4 513.8L72.0 512.2L72.7 510.7L73.3 509.1L73.9 507.5L74.6 505.6L75.2 503.5L75.9 501.2L76.6 498.9L77.2 496.5L77.9 494.1L78.6 491.8L79.2 489.5L79.9 487.2L80.6 484.9L81.2 482.6L81.9 480.3L82.6 478.0L83.2 475.7L83.9 473.6L84.5 471.7L85.2 470.0L85.8 468.4L86.5 467.0L87.1 465.8L87.6 464.7L88.1 463.7L88.5 463.0L88.9 462.4L89.3 461.8L89.7 461.1L90.1 460.4L90.5 459.6L91.0 458.7L91.4 457.9L91.9 457.2L92.3 456.7L92.7 456.1L93.1 455.6L93.6 455.2L94.2 454.7L94.8 454.2L95.6 453.7L96.3 453.2L97.2 452.8L98.0 452.4L98.9 452.0L99.8 451.7L100.7 451.4L101.7 451.1L102.7 450.8L103.9 450.5L105.1 450.2L106.3 449.9L107.6 449.7L108.9 449.4L110.2 449.2L111.6 449.0L112.9 448.9L114.2 448.7L115.2 448.7L115.9 448.7L116.5 448.8L116.9 448.9L117.3 449.0L117.8 449.1L118.3 449.0L118.7 448.9L119.1 448.8L119.7 448.7L120.4 448.7L121.4 448.7L122.7 448.9L124.0 449.0L125.4 449.2L126.7 449.4L128.0 449.7L129.3 449.9L130.5 450.2L131.7 450.5L132.9 450.8L133.9 451.1L134.9 451.4L135.8 451.7L136.7 452.0L137.6 452.4L138.4 452.8L139.3 453.2L140.0 453.7L140.8 454.2L141.4 454.7L142.0 455.2L142.5 455.6L142.9 456.1L143.3 456.7L143.7 457.2L144.2 457.9L144.6 458.7L145.1 459.6L145.5 460.4L145.9 461.1L146.3 461.8L146.7 462.4L147.1 463.0L147.5 463.7L148.0 464.7L148.5 465.8L149.1 467.0L149.8 468.4L150.4 470.0L151.1 471.7L151.7 473.6L152.4 475.7L153.0 478.0L153.7 480.3L154.4 482.6L155.0 484.9L155.7 487.2L156.4 489.5L157.0 491.8L157.7 494.1L158.4 496.5L159.0 498.9L159.7 501.2L160.4 503.5L161.0 505.6L161.7 507.5L162.3 509.1L162.9 510.7L163.6 512.2L164.2 513.8L164.9 515.5L165.6 517.2L166.2 518.9L166.9 520.5L167.5 522.0L168.2 523.3L168.7 524.5L169.3 525.6L169.9 526.5L170.6 527.4L171.2 528.3L171.9 529.0L172.5 529.6L173.3 530.2L174.3 530.8L175.4 531.3L176.8 531.7L178.2 532.1L179.6 532.5L181.0 532.7L182.3 532.8L183.7 532.9L185.0 532.8L186.3 532.8L187.6 532.7L189.0 532.7L190.3 532.6L191.6 532.6L192.9 532.5L194.2 532.3L195.5 532.1L196.8 531.8L198.2 531.4L199.5 531.1L200.8 530.8L202.2 530.5L203.5 530.2L204.9 529.9L206.2 529.8L207.4 529.8L208.7 530.0L209.9 530.4L211.0 530.9L212.2 531.4L213.3 531.7L214.4 532.0L215.6 532.3L216.7 532.6L217.6 532.8L218.3 532.9" stroke="#171796" stroke-width="1.25" fill="none"/>
<line x1="232.2" y1="533.3" x2="442.5" y2="533.3" stroke="#c8c8c8" stroke-width="0.9"/>
<line x1="237.50" y1="445.9" x2="237.50" y2="534.8" stroke="#222" stroke-width="1.00"/>
<line x1="235.7" y1="514.5" x2="238.7" y2="514.5" stroke="#555" stroke-width="0.8"/>
<text x="228.7" y="516.9" class="tl" textLength="7.5" lengthAdjust="spacingAndGlyphs">0.1</text>
<line x1="235.7" y1="495.8" x2="238.7" y2="495.8" stroke="#555" stroke-width="0.8"/>
<text x="228.7" y="498.1" class="tl" textLength="7.5" lengthAdjust="spacingAndGlyphs">0.2</text>
<line x1="235.7" y1="477.0" x2="238.7" y2="477.0" stroke="#555" stroke-width="0.8"/>
<text x="228.7" y="479.4" class="tl" textLength="7.5" lengthAdjust="spacingAndGlyphs">0.3</text>
<line x1="235.7" y1="458.3" x2="238.7" y2="458.3" stroke="#555" stroke-width="0.8"/>
<text x="228.7" y="460.6" class="tl" textLength="7.5" lengthAdjust="spacingAndGlyphs">0.4</text>
<line x1="270.7" y1="532.1" x2="270.7" y2="534.1" stroke="#bbb" stroke-width="0.7"/>
<line x1="304.1" y1="532.1" x2="304.1" y2="534.1" stroke="#bbb" stroke-width="0.7"/>
<line x1="337.6" y1="532.1" x2="337.6" y2="534.1" stroke="#bbb" stroke-width="0.7"/>
<line x1="371.1" y1="532.1" x2="371.1" y2="534.1" stroke="#bbb" stroke-width="0.7"/>
<line x1="404.5" y1="532.1" x2="404.5" y2="534.1" stroke="#bbb" stroke-width="0.7"/>
<line x1="438.0" y1="532.1" x2="438.0" y2="534.1" stroke="#bbb" stroke-width="0.7"/>
<text x="237.2" y="542.1" class="xl" text-anchor="middle">0</text>
<text x="270.7" y="538.6" class="xl" text-anchor="middle"><tspan class="pi">π</tspan></text>
<line x1="268.9" y1="540.0" x2="272.5" y2="540.0" stroke="#3a3a3a" stroke-width="0.6"/>
<text x="270.7" y="546.1" class="xl" text-anchor="middle">3</text>
<text x="304.1" y="538.6" class="xl" text-anchor="middle">2 <tspan class="pi">π</tspan></text>
<line x1="300.4" y1="540.0" x2="307.8" y2="540.0" stroke="#3a3a3a" stroke-width="0.6"/>
<text x="304.1" y="546.1" class="xl" text-anchor="middle">3</text>
<text x="371.1" y="538.6" class="xl" text-anchor="middle">4 <tspan class="pi">π</tspan></text>
<line x1="367.4" y1="540.0" x2="374.8" y2="540.0" stroke="#3a3a3a" stroke-width="0.6"/>
<text x="371.1" y="546.1" class="xl" text-anchor="middle">3</text>
<text x="404.5" y="538.6" class="xl" text-anchor="middle">5 <tspan class="pi">π</tspan></text>
<line x1="400.8" y1="540.0" x2="408.2" y2="540.0" stroke="#3a3a3a" stroke-width="0.6"/>
<text x="404.5" y="546.1" class="xl" text-anchor="middle">3</text>
<text x="337.6" y="541.6" class="xl" text-anchor="middle"><tspan class="pi">π</tspan></text>
<text x="438.0" y="541.6" class="xl" text-anchor="middle">2 <tspan class="pi">π</tspan></text>
<text x="446.3" y="535.3" class="phi" text-anchor="middle">ϕ</text>
<text x="237.2" y="443.4" class="pl" text-anchor="middle">P</text>
<text x="243.8" y="451.9" class="lbn">(j)</text>
<path d="M237.2 533.3L242.2 533.3L247.2 533.3L252.3 533.3L257.3 533.3L262.3 533.3L267.3 533.3L272.3 533.3L277.4 533.3L282.4 533.3L287.4 533.3L292.4 533.3L297.4 533.3L302.5 533.3L307.5 533.3L312.5 533.3L317.5 533.3L322.5 533.3L327.6 533.3L332.6 533.3L337.6 449.7L342.6 533.3L347.6 533.3L352.7 533.3L357.7 533.3L362.7 533.3L367.7 533.3L372.7 533.3L377.8 533.3L382.8 533.3L387.8 533.3L392.8 533.3L397.8 533.3L402.9 533.3L407.9 533.3L412.9 533.3L417.9 533.3L422.9 533.3L428.0 533.3L433.0 533.3L438.0 533.3" stroke="#27aeb6" stroke-width="1.3" fill="none" stroke-dasharray="6.8 5.2"/>
<circle cx="237.20" cy="533.30" r="1.5" fill="#27aeb6"/>
<circle cx="242.22" cy="533.30" r="1.5" fill="#27aeb6"/>
<circle cx="247.24" cy="533.30" r="1.5" fill="#27aeb6"/>
<circle cx="252.26" cy="533.30" r="1.5" fill="#27aeb6"/>
<circle cx="257.28" cy="533.30" r="1.5" fill="#27aeb6"/>
<circle cx="262.30" cy="533.30" r="1.5" fill="#27aeb6"/>
<circle cx="267.32" cy="533.30" r="1.5" fill="#27aeb6"/>
<circle cx="272.34" cy="533.30" r="1.5" fill="#27aeb6"/>
<circle cx="277.36" cy="533.30" r="1.5" fill="#27aeb6"/>
<circle cx="282.38" cy="533.30" r="1.5" fill="#27aeb6"/>
<circle cx="287.40" cy="533.30" r="1.5" fill="#27aeb6"/>
<circle cx="292.42" cy="533.30" r="1.5" fill="#27aeb6"/>
<circle cx="297.44" cy="533.30" r="1.5" fill="#27aeb6"/>
<circle cx="302.46" cy="533.30" r="1.5" fill="#27aeb6"/>
<circle cx="307.48" cy="533.30" r="1.5" fill="#27aeb6"/>
<circle cx="312.50" cy="533.30" r="1.5" fill="#27aeb6"/>
<circle cx="317.52" cy="533.30" r="1.5" fill="#27aeb6"/>
<circle cx="322.54" cy="533.30" r="1.5" fill="#27aeb6"/>
<circle cx="327.56" cy="533.30" r="1.5" fill="#27aeb6"/>
<circle cx="332.58" cy="533.30" r="1.5" fill="#27aeb6"/>
<circle cx="337.60" cy="449.67" r="1.5" fill="#27aeb6"/>
<circle cx="342.62" cy="533.30" r="1.5" fill="#27aeb6"/>
<circle cx="347.64" cy="533.30" r="1.5" fill="#27aeb6"/>
<circle cx="352.66" cy="533.30" r="1.5" fill="#27aeb6"/>
<circle cx="357.68" cy="533.30" r="1.5" fill="#27aeb6"/>
<circle cx="362.70" cy="533.30" r="1.5" fill="#27aeb6"/>
<circle cx="367.72" cy="533.30" r="1.5" fill="#27aeb6"/>
<circle cx="372.74" cy="533.30" r="1.5" fill="#27aeb6"/>
<circle cx="377.76" cy="533.30" r="1.5" fill="#27aeb6"/>
<circle cx="382.78" cy="533.30" r="1.5" fill="#27aeb6"/>
<circle cx="387.80" cy="533.30" r="1.5" fill="#27aeb6"/>
<circle cx="392.82" cy="533.30" r="1.5" fill="#27aeb6"/>
<circle cx="397.84" cy="533.30" r="1.5" fill="#27aeb6"/>
<circle cx="402.86" cy="533.30" r="1.5" fill="#27aeb6"/>
<circle cx="407.88" cy="533.30" r="1.5" fill="#27aeb6"/>
<circle cx="412.90" cy="533.30" r="1.5" fill="#27aeb6"/>
<circle cx="417.92" cy="533.30" r="1.5" fill="#27aeb6"/>
<circle cx="422.94" cy="533.30" r="1.5" fill="#27aeb6"/>
<circle cx="427.96" cy="533.30" r="1.5" fill="#27aeb6"/>
<circle cx="432.98" cy="533.30" r="1.5" fill="#27aeb6"/>
<circle cx="438.00" cy="533.30" r="1.5" fill="#27aeb6"/>
<path d="M237.2 533.3L242.5 532.9L247.8 530.6L253.1 529.0L258.3 529.0L263.6 530.4L268.9 531.8L274.2 532.5L279.5 532.7L284.8 532.7L290.0 532.7L295.3 532.7L300.6 532.7L305.9 532.5L311.2 532.2L316.5 526.4L321.7 507.4L327.0 487.5L332.3 460.5L337.6 449.7L342.9 460.5L348.2 487.5L353.5 507.4L358.7 526.4L364.0 532.2L369.3 532.5L374.6 532.7L379.9 532.7L385.2 532.7L390.4 532.7L395.7 532.7L401.0 532.5L406.3 531.8L411.6 530.4L416.9 529.0L422.1 529.0L427.4 530.6L432.7 532.9L438.0 533.3" stroke="#c42424" stroke-width="1.3" fill="none" stroke-dasharray="11 4.5 1.6 4.5"/>
<circle cx="237.20" cy="533.30" r="1.5" fill="#c42424"/>
<circle cx="242.48" cy="532.92" r="1.5" fill="#c42424"/>
<circle cx="247.77" cy="530.60" r="1.5" fill="#c42424"/>
<circle cx="253.05" cy="528.99" r="1.5" fill="#c42424"/>
<circle cx="258.34" cy="528.99" r="1.5" fill="#c42424"/>
<circle cx="263.62" cy="530.39" r="1.5" fill="#c42424"/>
<circle cx="268.91" cy="531.80" r="1.5" fill="#c42424"/>
<circle cx="274.19" cy="532.55" r="1.5" fill="#c42424"/>
<circle cx="279.47" cy="532.74" r="1.5" fill="#c42424"/>
<circle cx="284.76" cy="532.74" r="1.5" fill="#c42424"/>
<circle cx="290.04" cy="532.74" r="1.5" fill="#c42424"/>
<circle cx="295.33" cy="532.74" r="1.5" fill="#c42424"/>
<circle cx="300.61" cy="532.74" r="1.5" fill="#c42424"/>
<circle cx="305.89" cy="532.55" r="1.5" fill="#c42424"/>
<circle cx="311.18" cy="532.17" r="1.5" fill="#c42424"/>
<circle cx="316.46" cy="526.36" r="1.5" fill="#c42424"/>
<circle cx="321.75" cy="507.42" r="1.5" fill="#c42424"/>
<circle cx="327.03" cy="487.55" r="1.5" fill="#c42424"/>
<circle cx="332.32" cy="460.55" r="1.5" fill="#c42424"/>
<circle cx="337.60" cy="449.67" r="1.5" fill="#c42424"/>
<circle cx="342.88" cy="460.55" r="1.5" fill="#c42424"/>
<circle cx="348.17" cy="487.55" r="1.5" fill="#c42424"/>
<circle cx="353.45" cy="507.42" r="1.5" fill="#c42424"/>
<circle cx="358.74" cy="526.36" r="1.5" fill="#c42424"/>
<circle cx="364.02" cy="532.17" r="1.5" fill="#c42424"/>
<circle cx="369.31" cy="532.55" r="1.5" fill="#c42424"/>
<circle cx="374.59" cy="532.74" r="1.5" fill="#c42424"/>
<circle cx="379.87" cy="532.74" r="1.5" fill="#c42424"/>
<circle cx="385.16" cy="532.74" r="1.5" fill="#c42424"/>
<circle cx="390.44" cy="532.74" r="1.5" fill="#c42424"/>
<circle cx="395.73" cy="532.74" r="1.5" fill="#c42424"/>
<circle cx="401.01" cy="532.55" r="1.5" fill="#c42424"/>
<circle cx="406.29" cy="531.80" r="1.5" fill="#c42424"/>
<circle cx="411.58" cy="530.39" r="1.5" fill="#c42424"/>
<circle cx="416.86" cy="528.99" r="1.5" fill="#c42424"/>
<circle cx="422.15" cy="528.99" r="1.5" fill="#c42424"/>
<circle cx="427.43" cy="530.60" r="1.5" fill="#c42424"/>
<circle cx="432.72" cy="532.92" r="1.5" fill="#c42424"/>
<circle cx="438.00" cy="533.30" r="1.5" fill="#c42424"/>
<path d="M237.2 533.3L242.5 533.3L247.8 532.9L253.1 532.5L258.3 532.4L263.6 532.4L268.9 532.2L274.2 532.0L279.5 531.8L284.8 532.2L290.0 532.7L295.3 524.7L300.6 497.5L305.9 461.9L311.2 455.9L316.5 455.9L321.7 456.2L327.0 454.7L332.3 451.7L337.6 449.7L342.9 451.7L348.2 454.7L353.5 456.2L358.7 455.9L364.0 455.9L369.3 461.9L374.6 497.5L379.9 524.7L385.2 532.7L390.4 532.2L395.7 531.8L401.0 532.0L406.3 532.2L411.6 532.4L416.9 532.4L422.1 532.5L427.4 532.9L432.7 533.3L438.0 533.3" stroke="#171796" stroke-width="1.25" fill="none"/>
<circle cx="237.20" cy="533.30" r="1.5" fill="#171796"/>
<circle cx="242.48" cy="533.30" r="1.5" fill="#171796"/>
<circle cx="247.77" cy="532.92" r="1.5" fill="#171796"/>
<circle cx="253.05" cy="532.55" r="1.5" fill="#171796"/>
<circle cx="258.34" cy="532.36" r="1.5" fill="#171796"/>
<circle cx="263.62" cy="532.36" r="1.5" fill="#171796"/>
<circle cx="268.91" cy="532.17" r="1.5" fill="#171796"/>
<circle cx="274.19" cy="531.99" r="1.5" fill="#171796"/>
<circle cx="279.47" cy="531.80" r="1.5" fill="#171796"/>
<circle cx="284.76" cy="532.17" r="1.5" fill="#171796"/>
<circle cx="290.04" cy="532.74" r="1.5" fill="#171796"/>
<circle cx="295.33" cy="524.67" r="1.5" fill="#171796"/>
<circle cx="300.61" cy="497.49" r="1.5" fill="#171796"/>
<circle cx="305.89" cy="461.86" r="1.5" fill="#171796"/>
<circle cx="311.18" cy="455.86" r="1.5" fill="#171796"/>
<circle cx="316.46" cy="455.86" r="1.5" fill="#171796"/>
<circle cx="321.75" cy="456.24" r="1.5" fill="#171796"/>
<circle cx="327.03" cy="454.74" r="1.5" fill="#171796"/>
<circle cx="332.32" cy="451.74" r="1.5" fill="#171796"/>
<circle cx="337.60" cy="449.67" r="1.5" fill="#171796"/>
<circle cx="342.88" cy="451.74" r="1.5" fill="#171796"/>
<circle cx="348.17" cy="454.74" r="1.5" fill="#171796"/>
<circle cx="353.45" cy="456.24" r="1.5" fill="#171796"/>
<circle cx="358.74" cy="455.86" r="1.5" fill="#171796"/>
<circle cx="364.02" cy="455.86" r="1.5" fill="#171796"/>
<circle cx="369.31" cy="461.86" r="1.5" fill="#171796"/>
<circle cx="374.59" cy="497.49" r="1.5" fill="#171796"/>
<circle cx="379.87" cy="524.67" r="1.5" fill="#171796"/>
<circle cx="385.16" cy="532.74" r="1.5" fill="#171796"/>
<circle cx="390.44" cy="532.17" r="1.5" fill="#171796"/>
<circle cx="395.73" cy="531.80" r="1.5" fill="#171796"/>
<circle cx="401.01" cy="531.99" r="1.5" fill="#171796"/>
<circle cx="406.29" cy="532.17" r="1.5" fill="#171796"/>
<circle cx="411.58" cy="532.36" r="1.5" fill="#171796"/>
<circle cx="416.86" cy="532.36" r="1.5" fill="#171796"/>
<circle cx="422.15" cy="532.55" r="1.5" fill="#171796"/>
<circle cx="427.43" cy="532.92" r="1.5" fill="#171796"/>
<circle cx="432.72" cy="533.30" r="1.5" fill="#171796"/>
<circle cx="438.00" cy="533.30" r="1.5" fill="#171796"/>
<path d="M237.2 533.3L242.5 533.3L247.8 533.3L253.1 533.3L258.3 533.3L263.6 533.3L268.9 532.9L274.2 532.2L279.5 530.5L284.8 530.7L290.0 533.3L295.3 520.9L300.6 488.3L305.9 460.0L311.2 456.4L316.5 461.9L321.7 465.0L327.0 461.1L332.3 453.8L337.6 449.7L342.9 453.8L348.2 461.1L353.5 465.0L358.7 461.9L364.0 456.4L369.3 460.0L374.6 488.3L379.9 520.9L385.2 533.3L390.4 530.7L395.7 530.5L401.0 532.2L406.3 532.9L411.6 533.3L416.9 533.3L422.1 533.3L427.4 533.3L432.7 533.3L438.0 533.3" stroke="#2fb52f" stroke-width="1.25" fill="none"/>
<circle cx="237.20" cy="533.30" r="1.5" fill="#2fb52f"/>
<circle cx="242.48" cy="533.30" r="1.5" fill="#2fb52f"/>
<circle cx="247.77" cy="533.30" r="1.5" fill="#2fb52f"/>
<circle cx="253.05" cy="533.30" r="1.5" fill="#2fb52f"/>
<circle cx="258.34" cy="533.30" r="1.5" fill="#2fb52f"/>
<circle cx="263.62" cy="533.30" r="1.5" fill="#2fb52f"/>
<circle cx="268.91" cy="532.92" r="1.5" fill="#2fb52f"/>
<circle cx="274.19" cy="532.17" r="1.5" fill="#2fb52f"/>
<circle cx="279.47" cy="530.49" r="1.5" fill="#2fb52f"/>
<circle cx="284.76" cy="530.67" r="1.5" fill="#2fb52f"/>
<circle cx="290.04" cy="533.30" r="1.5" fill="#2fb52f"/>
<circle cx="295.33" cy="520.92" r="1.5" fill="#2fb52f"/>
<circle cx="300.61" cy="488.30" r="1.5" fill="#2fb52f"/>
<circle cx="305.89" cy="459.99" r="1.5" fill="#2fb52f"/>
<circle cx="311.18" cy="456.42" r="1.5" fill="#2fb52f"/>
<circle cx="316.46" cy="461.86" r="1.5" fill="#2fb52f"/>
<circle cx="321.75" cy="465.05" r="1.5" fill="#2fb52f"/>
<circle cx="327.03" cy="461.11" r="1.5" fill="#2fb52f"/>
<circle cx="332.32" cy="453.80" r="1.5" fill="#2fb52f"/>
<circle cx="337.60" cy="449.67" r="1.5" fill="#2fb52f"/>
<circle cx="342.88" cy="453.80" r="1.5" fill="#2fb52f"/>
<circle cx="348.17" cy="461.11" r="1.5" fill="#2fb52f"/>
<circle cx="353.45" cy="465.05" r="1.5" fill="#2fb52f"/>
<circle cx="358.74" cy="461.86" r="1.5" fill="#2fb52f"/>
<circle cx="364.02" cy="456.42" r="1.5" fill="#2fb52f"/>
<circle cx="369.31" cy="459.99" r="1.5" fill="#2fb52f"/>
<circle cx="374.59" cy="488.30" r="1.5" fill="#2fb52f"/>
<circle cx="379.87" cy="520.92" r="1.5" fill="#2fb52f"/>
<circle cx="385.16" cy="533.30" r="1.5" fill="#2fb52f"/>
<circle cx="390.44" cy="530.67" r="1.5" fill="#2fb52f"/>
<circle cx="395.73" cy="530.49" r="1.5" fill="#2fb52f"/>
<circle cx="401.01" cy="532.17" r="1.5" fill="#2fb52f"/>
<circle cx="406.29" cy="532.92" r="1.5" fill="#2fb52f"/>
<circle cx="411.58" cy="533.30" r="1.5" fill="#2fb52f"/>
<circle cx="416.86" cy="533.30" r="1.5" fill="#2fb52f"/>
<circle cx="422.15" cy="533.30" r="1.5" fill="#2fb52f"/>
<circle cx="427.43" cy="533.30" r="1.5" fill="#2fb52f"/>
<circle cx="432.72" cy="533.30" r="1.5" fill="#2fb52f"/>
<circle cx="438.00" cy="533.30" r="1.5" fill="#2fb52f"/>
</svg></body></html>
